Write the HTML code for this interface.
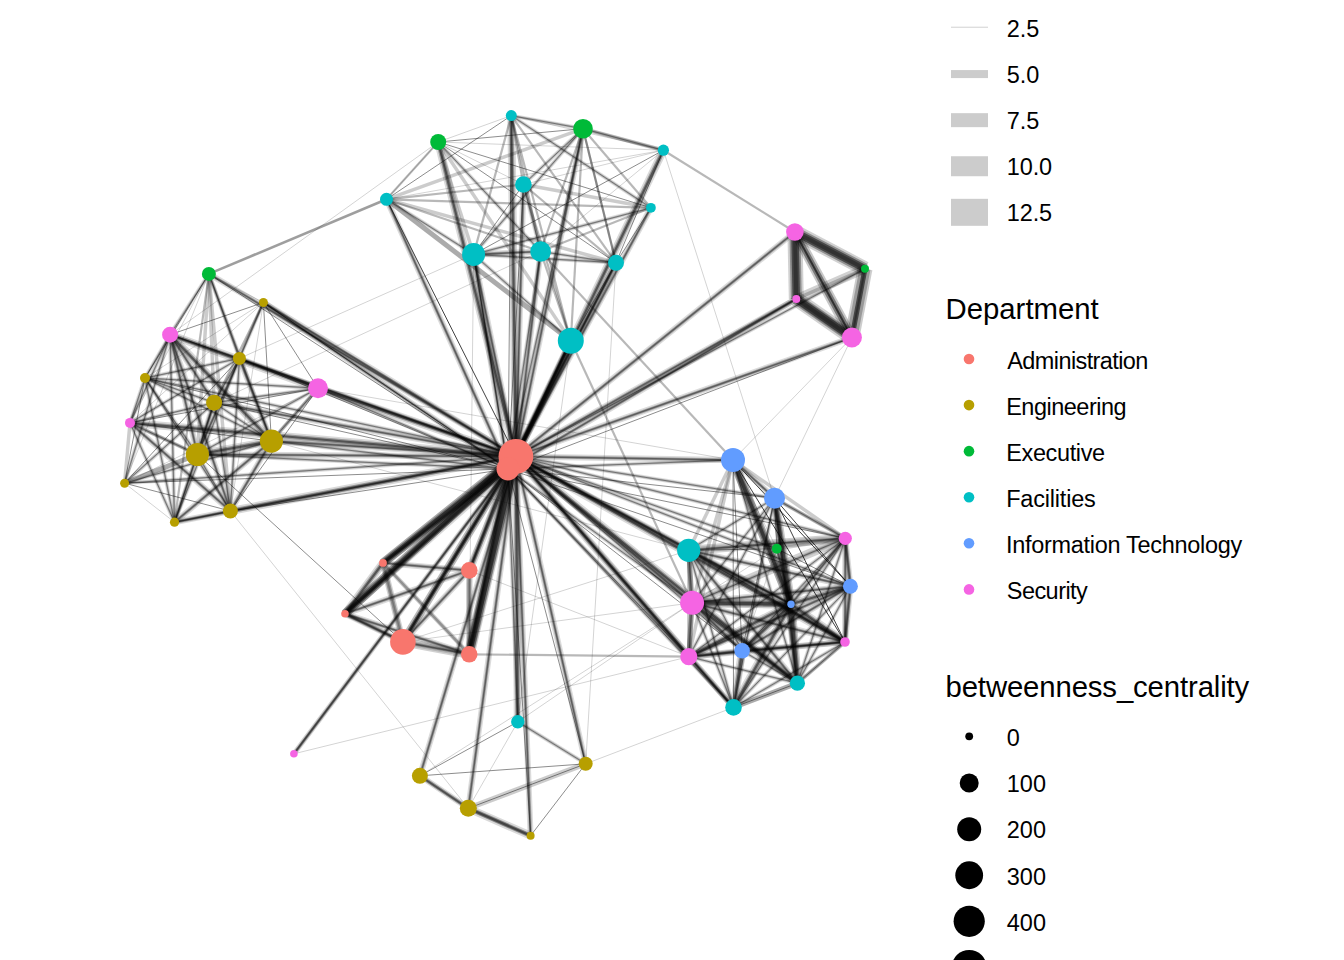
<!DOCTYPE html>
<html><head><meta charset="utf-8"><title>network</title>
<style>
html,body{margin:0;padding:0;background:#fff;}
body{width:1344px;height:960px;overflow:hidden;font-family:"Liberation Sans",sans-serif;}
svg{display:block;}
text{font-family:"Liberation Sans",sans-serif;fill:#000;}
</style></head><body>
<svg width="1344" height="960" viewBox="0 0 1344 960">
<rect width="1344" height="960" fill="#fff"/>
<defs><filter id="bl" x="0" y="0" width="1344" height="960" filterUnits="userSpaceOnUse"><feGaussianBlur stdDeviation="0.45"/></filter></defs><g stroke="#000" stroke-linecap="butt" filter="url(#bl)"><line x1="511.3" y1="115.6" x2="438.2" y2="142.0" stroke-width="0.8" stroke-opacity="0.22"/>
<line x1="511.3" y1="115.6" x2="583.0" y2="128.7" stroke-width="4.0" stroke-opacity="0.13"/>
<line x1="511.3" y1="115.6" x2="583.0" y2="128.7" stroke-width="2.2" stroke-opacity="0.20"/>
<line x1="511.3" y1="115.6" x2="583.0" y2="128.7" stroke-width="1.0" stroke-opacity="0.36"/>
<line x1="511.3" y1="115.6" x2="663.4" y2="150.2" stroke-width="0.8" stroke-opacity="0.22"/>
<line x1="511.3" y1="115.6" x2="523.4" y2="184.5" stroke-width="2.2" stroke-opacity="0.28"/>
<line x1="511.3" y1="115.6" x2="386.5" y2="199.3" stroke-width="0.9" stroke-opacity="0.50"/>
<line x1="511.3" y1="115.6" x2="650.9" y2="207.8" stroke-width="4.0" stroke-opacity="0.13"/>
<line x1="511.3" y1="115.6" x2="650.9" y2="207.8" stroke-width="2.2" stroke-opacity="0.20"/>
<line x1="511.3" y1="115.6" x2="650.9" y2="207.8" stroke-width="1.0" stroke-opacity="0.36"/>
<line x1="511.3" y1="115.6" x2="473.6" y2="254.4" stroke-width="2.2" stroke-opacity="0.28"/>
<line x1="511.3" y1="115.6" x2="540.6" y2="251.5" stroke-width="2.2" stroke-opacity="0.28"/>
<line x1="511.3" y1="115.6" x2="616.0" y2="262.8" stroke-width="2.2" stroke-opacity="0.28"/>
<line x1="511.3" y1="115.6" x2="570.8" y2="340.7" stroke-width="2.2" stroke-opacity="0.28"/>
<line x1="438.2" y1="142.0" x2="583.0" y2="128.7" stroke-width="0.9" stroke-opacity="0.50"/>
<line x1="438.2" y1="142.0" x2="663.4" y2="150.2" stroke-width="0.8" stroke-opacity="0.22"/>
<line x1="438.2" y1="142.0" x2="523.4" y2="184.5" stroke-width="0.8" stroke-opacity="0.22"/>
<line x1="438.2" y1="142.0" x2="386.5" y2="199.3" stroke-width="2.2" stroke-opacity="0.28"/>
<line x1="438.2" y1="142.0" x2="386.5" y2="199.3" stroke-width="0.8" stroke-opacity="0.22"/>
<line x1="438.2" y1="142.0" x2="650.9" y2="207.8" stroke-width="0.9" stroke-opacity="0.50"/>
<line x1="438.2" y1="142.0" x2="473.6" y2="254.4" stroke-width="3.5" stroke-opacity="0.20"/>
<line x1="438.2" y1="142.0" x2="540.6" y2="251.5" stroke-width="4.0" stroke-opacity="0.13"/>
<line x1="438.2" y1="142.0" x2="540.6" y2="251.5" stroke-width="2.2" stroke-opacity="0.20"/>
<line x1="438.2" y1="142.0" x2="540.6" y2="251.5" stroke-width="1.0" stroke-opacity="0.36"/>
<line x1="438.2" y1="142.0" x2="616.0" y2="262.8" stroke-width="0.9" stroke-opacity="0.50"/>
<line x1="438.2" y1="142.0" x2="570.8" y2="340.7" stroke-width="3.5" stroke-opacity="0.20"/>
<line x1="583.0" y1="128.7" x2="663.4" y2="150.2" stroke-width="4.0" stroke-opacity="0.13"/>
<line x1="583.0" y1="128.7" x2="663.4" y2="150.2" stroke-width="2.2" stroke-opacity="0.20"/>
<line x1="583.0" y1="128.7" x2="663.4" y2="150.2" stroke-width="1.0" stroke-opacity="0.36"/>
<line x1="583.0" y1="128.7" x2="663.4" y2="150.2" stroke-width="3.5" stroke-opacity="0.20"/>
<line x1="583.0" y1="128.7" x2="523.4" y2="184.5" stroke-width="4.0" stroke-opacity="0.13"/>
<line x1="583.0" y1="128.7" x2="523.4" y2="184.5" stroke-width="2.2" stroke-opacity="0.20"/>
<line x1="583.0" y1="128.7" x2="523.4" y2="184.5" stroke-width="1.0" stroke-opacity="0.36"/>
<line x1="583.0" y1="128.7" x2="386.5" y2="199.3" stroke-width="3.5" stroke-opacity="0.20"/>
<line x1="583.0" y1="128.7" x2="650.9" y2="207.8" stroke-width="2.2" stroke-opacity="0.28"/>
<line x1="583.0" y1="128.7" x2="473.6" y2="254.4" stroke-width="4.0" stroke-opacity="0.13"/>
<line x1="583.0" y1="128.7" x2="473.6" y2="254.4" stroke-width="2.2" stroke-opacity="0.20"/>
<line x1="583.0" y1="128.7" x2="473.6" y2="254.4" stroke-width="1.0" stroke-opacity="0.36"/>
<line x1="583.0" y1="128.7" x2="540.6" y2="251.5" stroke-width="2.2" stroke-opacity="0.28"/>
<line x1="583.0" y1="128.7" x2="616.0" y2="262.8" stroke-width="2.2" stroke-opacity="0.28"/>
<line x1="583.0" y1="128.7" x2="616.0" y2="262.8" stroke-width="2.2" stroke-opacity="0.28"/>
<line x1="583.0" y1="128.7" x2="570.8" y2="340.7" stroke-width="2.2" stroke-opacity="0.28"/>
<line x1="663.4" y1="150.2" x2="523.4" y2="184.5" stroke-width="0.8" stroke-opacity="0.22"/>
<line x1="663.4" y1="150.2" x2="386.5" y2="199.3" stroke-width="0.8" stroke-opacity="0.22"/>
<line x1="663.4" y1="150.2" x2="473.6" y2="254.4" stroke-width="0.9" stroke-opacity="0.50"/>
<line x1="663.4" y1="150.2" x2="540.6" y2="251.5" stroke-width="0.8" stroke-opacity="0.22"/>
<line x1="663.4" y1="150.2" x2="616.0" y2="262.8" stroke-width="0.9" stroke-opacity="0.50"/>
<line x1="523.4" y1="184.5" x2="386.5" y2="199.3" stroke-width="2.2" stroke-opacity="0.28"/>
<line x1="523.4" y1="184.5" x2="650.9" y2="207.8" stroke-width="3.5" stroke-opacity="0.20"/>
<line x1="523.4" y1="184.5" x2="473.6" y2="254.4" stroke-width="0.9" stroke-opacity="0.50"/>
<line x1="523.4" y1="184.5" x2="540.6" y2="251.5" stroke-width="4.0" stroke-opacity="0.13"/>
<line x1="523.4" y1="184.5" x2="540.6" y2="251.5" stroke-width="2.2" stroke-opacity="0.20"/>
<line x1="523.4" y1="184.5" x2="540.6" y2="251.5" stroke-width="1.0" stroke-opacity="0.36"/>
<line x1="523.4" y1="184.5" x2="616.0" y2="262.8" stroke-width="2.2" stroke-opacity="0.28"/>
<line x1="523.4" y1="184.5" x2="570.8" y2="340.7" stroke-width="2.2" stroke-opacity="0.28"/>
<line x1="386.5" y1="199.3" x2="650.9" y2="207.8" stroke-width="2.2" stroke-opacity="0.28"/>
<line x1="386.5" y1="199.3" x2="473.6" y2="254.4" stroke-width="4.0" stroke-opacity="0.13"/>
<line x1="386.5" y1="199.3" x2="473.6" y2="254.4" stroke-width="2.2" stroke-opacity="0.20"/>
<line x1="386.5" y1="199.3" x2="473.6" y2="254.4" stroke-width="1.0" stroke-opacity="0.36"/>
<line x1="386.5" y1="199.3" x2="540.6" y2="251.5" stroke-width="2.2" stroke-opacity="0.28"/>
<line x1="386.5" y1="199.3" x2="616.0" y2="262.8" stroke-width="3.5" stroke-opacity="0.20"/>
<line x1="386.5" y1="199.3" x2="570.8" y2="340.7" stroke-width="5.0" stroke-opacity="0.33"/>
<line x1="650.9" y1="207.8" x2="473.6" y2="254.4" stroke-width="4.0" stroke-opacity="0.13"/>
<line x1="650.9" y1="207.8" x2="473.6" y2="254.4" stroke-width="2.2" stroke-opacity="0.20"/>
<line x1="650.9" y1="207.8" x2="473.6" y2="254.4" stroke-width="1.0" stroke-opacity="0.36"/>
<line x1="650.9" y1="207.8" x2="540.6" y2="251.5" stroke-width="2.2" stroke-opacity="0.28"/>
<line x1="650.9" y1="207.8" x2="616.0" y2="262.8" stroke-width="0.9" stroke-opacity="0.50"/>
<line x1="473.6" y1="254.4" x2="540.6" y2="251.5" stroke-width="6.0" stroke-opacity="0.14"/>
<line x1="473.6" y1="254.4" x2="540.6" y2="251.5" stroke-width="3.2" stroke-opacity="0.26"/>
<line x1="473.6" y1="254.4" x2="540.6" y2="251.5" stroke-width="1.5" stroke-opacity="0.43"/>
<line x1="473.6" y1="254.4" x2="616.0" y2="262.8" stroke-width="4.0" stroke-opacity="0.13"/>
<line x1="473.6" y1="254.4" x2="616.0" y2="262.8" stroke-width="2.2" stroke-opacity="0.20"/>
<line x1="473.6" y1="254.4" x2="616.0" y2="262.8" stroke-width="1.0" stroke-opacity="0.36"/>
<line x1="473.6" y1="254.4" x2="570.8" y2="340.7" stroke-width="4.0" stroke-opacity="0.13"/>
<line x1="473.6" y1="254.4" x2="570.8" y2="340.7" stroke-width="2.2" stroke-opacity="0.20"/>
<line x1="473.6" y1="254.4" x2="570.8" y2="340.7" stroke-width="1.0" stroke-opacity="0.36"/>
<line x1="540.6" y1="251.5" x2="616.0" y2="262.8" stroke-width="4.0" stroke-opacity="0.13"/>
<line x1="540.6" y1="251.5" x2="616.0" y2="262.8" stroke-width="2.2" stroke-opacity="0.20"/>
<line x1="540.6" y1="251.5" x2="616.0" y2="262.8" stroke-width="1.0" stroke-opacity="0.36"/>
<line x1="540.6" y1="251.5" x2="570.8" y2="340.7" stroke-width="2.2" stroke-opacity="0.28"/>
<line x1="616.0" y1="262.8" x2="570.8" y2="340.7" stroke-width="0.9" stroke-opacity="0.50"/>
<line x1="208.9" y1="273.9" x2="263.4" y2="302.5" stroke-width="0.8" stroke-opacity="0.22"/>
<line x1="208.9" y1="273.9" x2="170.1" y2="334.7" stroke-width="4.0" stroke-opacity="0.13"/>
<line x1="208.9" y1="273.9" x2="170.1" y2="334.7" stroke-width="2.2" stroke-opacity="0.20"/>
<line x1="208.9" y1="273.9" x2="170.1" y2="334.7" stroke-width="1.0" stroke-opacity="0.36"/>
<line x1="208.9" y1="273.9" x2="239.4" y2="358.4" stroke-width="4.0" stroke-opacity="0.13"/>
<line x1="208.9" y1="273.9" x2="239.4" y2="358.4" stroke-width="2.2" stroke-opacity="0.20"/>
<line x1="208.9" y1="273.9" x2="239.4" y2="358.4" stroke-width="1.0" stroke-opacity="0.36"/>
<line x1="208.9" y1="273.9" x2="145.0" y2="378.0" stroke-width="0.9" stroke-opacity="0.50"/>
<line x1="208.9" y1="273.9" x2="214.1" y2="402.7" stroke-width="3.5" stroke-opacity="0.20"/>
<line x1="208.9" y1="273.9" x2="130.0" y2="422.9" stroke-width="0.8" stroke-opacity="0.22"/>
<line x1="208.9" y1="273.9" x2="271.4" y2="441.1" stroke-width="4.0" stroke-opacity="0.13"/>
<line x1="208.9" y1="273.9" x2="271.4" y2="441.1" stroke-width="2.2" stroke-opacity="0.20"/>
<line x1="208.9" y1="273.9" x2="271.4" y2="441.1" stroke-width="1.0" stroke-opacity="0.36"/>
<line x1="208.9" y1="273.9" x2="197.4" y2="454.5" stroke-width="3.5" stroke-opacity="0.20"/>
<line x1="208.9" y1="273.9" x2="124.6" y2="483.2" stroke-width="0.8" stroke-opacity="0.22"/>
<line x1="208.9" y1="273.9" x2="230.4" y2="511.0" stroke-width="3.5" stroke-opacity="0.20"/>
<line x1="208.9" y1="273.9" x2="174.5" y2="522.2" stroke-width="2.2" stroke-opacity="0.28"/>
<line x1="263.4" y1="302.5" x2="170.1" y2="334.7" stroke-width="0.9" stroke-opacity="0.50"/>
<line x1="263.4" y1="302.5" x2="239.4" y2="358.4" stroke-width="4.0" stroke-opacity="0.13"/>
<line x1="263.4" y1="302.5" x2="239.4" y2="358.4" stroke-width="2.2" stroke-opacity="0.20"/>
<line x1="263.4" y1="302.5" x2="239.4" y2="358.4" stroke-width="1.0" stroke-opacity="0.36"/>
<line x1="263.4" y1="302.5" x2="145.0" y2="378.0" stroke-width="0.8" stroke-opacity="0.22"/>
<line x1="263.4" y1="302.5" x2="318.0" y2="388.3" stroke-width="0.9" stroke-opacity="0.50"/>
<line x1="263.4" y1="302.5" x2="214.1" y2="402.7" stroke-width="2.2" stroke-opacity="0.28"/>
<line x1="263.4" y1="302.5" x2="130.0" y2="422.9" stroke-width="0.8" stroke-opacity="0.22"/>
<line x1="263.4" y1="302.5" x2="271.4" y2="441.1" stroke-width="0.9" stroke-opacity="0.50"/>
<line x1="263.4" y1="302.5" x2="197.4" y2="454.5" stroke-width="2.2" stroke-opacity="0.28"/>
<line x1="263.4" y1="302.5" x2="230.4" y2="511.0" stroke-width="0.8" stroke-opacity="0.22"/>
<line x1="170.1" y1="334.7" x2="239.4" y2="358.4" stroke-width="0.9" stroke-opacity="0.50"/>
<line x1="170.1" y1="334.7" x2="145.0" y2="378.0" stroke-width="4.0" stroke-opacity="0.13"/>
<line x1="170.1" y1="334.7" x2="145.0" y2="378.0" stroke-width="2.2" stroke-opacity="0.20"/>
<line x1="170.1" y1="334.7" x2="145.0" y2="378.0" stroke-width="1.0" stroke-opacity="0.36"/>
<line x1="170.1" y1="334.7" x2="318.0" y2="388.3" stroke-width="8.0" stroke-opacity="0.15"/>
<line x1="170.1" y1="334.7" x2="318.0" y2="388.3" stroke-width="4.5" stroke-opacity="0.30"/>
<line x1="170.1" y1="334.7" x2="318.0" y2="388.3" stroke-width="2.2" stroke-opacity="0.46"/>
<line x1="170.1" y1="334.7" x2="214.1" y2="402.7" stroke-width="6.0" stroke-opacity="0.14"/>
<line x1="170.1" y1="334.7" x2="214.1" y2="402.7" stroke-width="3.2" stroke-opacity="0.26"/>
<line x1="170.1" y1="334.7" x2="214.1" y2="402.7" stroke-width="1.5" stroke-opacity="0.43"/>
<line x1="170.1" y1="334.7" x2="130.0" y2="422.9" stroke-width="4.0" stroke-opacity="0.13"/>
<line x1="170.1" y1="334.7" x2="130.0" y2="422.9" stroke-width="2.2" stroke-opacity="0.20"/>
<line x1="170.1" y1="334.7" x2="130.0" y2="422.9" stroke-width="1.0" stroke-opacity="0.36"/>
<line x1="170.1" y1="334.7" x2="271.4" y2="441.1" stroke-width="8.0" stroke-opacity="0.15"/>
<line x1="170.1" y1="334.7" x2="271.4" y2="441.1" stroke-width="4.5" stroke-opacity="0.30"/>
<line x1="170.1" y1="334.7" x2="271.4" y2="441.1" stroke-width="2.2" stroke-opacity="0.46"/>
<line x1="170.1" y1="334.7" x2="197.4" y2="454.5" stroke-width="6.0" stroke-opacity="0.14"/>
<line x1="170.1" y1="334.7" x2="197.4" y2="454.5" stroke-width="3.2" stroke-opacity="0.26"/>
<line x1="170.1" y1="334.7" x2="197.4" y2="454.5" stroke-width="1.5" stroke-opacity="0.43"/>
<line x1="170.1" y1="334.7" x2="124.6" y2="483.2" stroke-width="4.0" stroke-opacity="0.13"/>
<line x1="170.1" y1="334.7" x2="124.6" y2="483.2" stroke-width="2.2" stroke-opacity="0.20"/>
<line x1="170.1" y1="334.7" x2="124.6" y2="483.2" stroke-width="1.0" stroke-opacity="0.36"/>
<line x1="170.1" y1="334.7" x2="230.4" y2="511.0" stroke-width="6.0" stroke-opacity="0.14"/>
<line x1="170.1" y1="334.7" x2="230.4" y2="511.0" stroke-width="3.2" stroke-opacity="0.26"/>
<line x1="170.1" y1="334.7" x2="230.4" y2="511.0" stroke-width="1.5" stroke-opacity="0.43"/>
<line x1="170.1" y1="334.7" x2="174.5" y2="522.2" stroke-width="4.0" stroke-opacity="0.13"/>
<line x1="170.1" y1="334.7" x2="174.5" y2="522.2" stroke-width="2.2" stroke-opacity="0.20"/>
<line x1="170.1" y1="334.7" x2="174.5" y2="522.2" stroke-width="1.0" stroke-opacity="0.36"/>
<line x1="239.4" y1="358.4" x2="145.0" y2="378.0" stroke-width="4.0" stroke-opacity="0.13"/>
<line x1="239.4" y1="358.4" x2="145.0" y2="378.0" stroke-width="2.2" stroke-opacity="0.20"/>
<line x1="239.4" y1="358.4" x2="145.0" y2="378.0" stroke-width="1.0" stroke-opacity="0.36"/>
<line x1="239.4" y1="358.4" x2="318.0" y2="388.3" stroke-width="4.0" stroke-opacity="0.13"/>
<line x1="239.4" y1="358.4" x2="318.0" y2="388.3" stroke-width="2.2" stroke-opacity="0.20"/>
<line x1="239.4" y1="358.4" x2="318.0" y2="388.3" stroke-width="1.0" stroke-opacity="0.36"/>
<line x1="239.4" y1="358.4" x2="214.1" y2="402.7" stroke-width="4.0" stroke-opacity="0.13"/>
<line x1="239.4" y1="358.4" x2="214.1" y2="402.7" stroke-width="2.2" stroke-opacity="0.20"/>
<line x1="239.4" y1="358.4" x2="214.1" y2="402.7" stroke-width="1.0" stroke-opacity="0.36"/>
<line x1="239.4" y1="358.4" x2="130.0" y2="422.9" stroke-width="4.0" stroke-opacity="0.13"/>
<line x1="239.4" y1="358.4" x2="130.0" y2="422.9" stroke-width="2.2" stroke-opacity="0.20"/>
<line x1="239.4" y1="358.4" x2="130.0" y2="422.9" stroke-width="1.0" stroke-opacity="0.36"/>
<line x1="239.4" y1="358.4" x2="271.4" y2="441.1" stroke-width="6.0" stroke-opacity="0.14"/>
<line x1="239.4" y1="358.4" x2="271.4" y2="441.1" stroke-width="3.2" stroke-opacity="0.26"/>
<line x1="239.4" y1="358.4" x2="271.4" y2="441.1" stroke-width="1.5" stroke-opacity="0.43"/>
<line x1="239.4" y1="358.4" x2="197.4" y2="454.5" stroke-width="4.0" stroke-opacity="0.13"/>
<line x1="239.4" y1="358.4" x2="197.4" y2="454.5" stroke-width="2.2" stroke-opacity="0.20"/>
<line x1="239.4" y1="358.4" x2="197.4" y2="454.5" stroke-width="1.0" stroke-opacity="0.36"/>
<line x1="239.4" y1="358.4" x2="124.6" y2="483.2" stroke-width="0.9" stroke-opacity="0.50"/>
<line x1="239.4" y1="358.4" x2="230.4" y2="511.0" stroke-width="4.0" stroke-opacity="0.13"/>
<line x1="239.4" y1="358.4" x2="230.4" y2="511.0" stroke-width="2.2" stroke-opacity="0.20"/>
<line x1="239.4" y1="358.4" x2="230.4" y2="511.0" stroke-width="1.0" stroke-opacity="0.36"/>
<line x1="239.4" y1="358.4" x2="174.5" y2="522.2" stroke-width="4.0" stroke-opacity="0.13"/>
<line x1="239.4" y1="358.4" x2="174.5" y2="522.2" stroke-width="2.2" stroke-opacity="0.20"/>
<line x1="239.4" y1="358.4" x2="174.5" y2="522.2" stroke-width="1.0" stroke-opacity="0.36"/>
<line x1="145.0" y1="378.0" x2="318.0" y2="388.3" stroke-width="4.0" stroke-opacity="0.13"/>
<line x1="145.0" y1="378.0" x2="318.0" y2="388.3" stroke-width="2.2" stroke-opacity="0.20"/>
<line x1="145.0" y1="378.0" x2="318.0" y2="388.3" stroke-width="1.0" stroke-opacity="0.36"/>
<line x1="145.0" y1="378.0" x2="214.1" y2="402.7" stroke-width="4.0" stroke-opacity="0.13"/>
<line x1="145.0" y1="378.0" x2="214.1" y2="402.7" stroke-width="2.2" stroke-opacity="0.20"/>
<line x1="145.0" y1="378.0" x2="214.1" y2="402.7" stroke-width="1.0" stroke-opacity="0.36"/>
<line x1="145.0" y1="378.0" x2="130.0" y2="422.9" stroke-width="4.0" stroke-opacity="0.13"/>
<line x1="145.0" y1="378.0" x2="130.0" y2="422.9" stroke-width="2.2" stroke-opacity="0.20"/>
<line x1="145.0" y1="378.0" x2="130.0" y2="422.9" stroke-width="1.0" stroke-opacity="0.36"/>
<line x1="145.0" y1="378.0" x2="271.4" y2="441.1" stroke-width="4.0" stroke-opacity="0.13"/>
<line x1="145.0" y1="378.0" x2="271.4" y2="441.1" stroke-width="2.2" stroke-opacity="0.20"/>
<line x1="145.0" y1="378.0" x2="271.4" y2="441.1" stroke-width="1.0" stroke-opacity="0.36"/>
<line x1="145.0" y1="378.0" x2="197.4" y2="454.5" stroke-width="4.0" stroke-opacity="0.13"/>
<line x1="145.0" y1="378.0" x2="197.4" y2="454.5" stroke-width="2.2" stroke-opacity="0.20"/>
<line x1="145.0" y1="378.0" x2="197.4" y2="454.5" stroke-width="1.0" stroke-opacity="0.36"/>
<line x1="145.0" y1="378.0" x2="124.6" y2="483.2" stroke-width="0.9" stroke-opacity="0.50"/>
<line x1="145.0" y1="378.0" x2="230.4" y2="511.0" stroke-width="4.0" stroke-opacity="0.13"/>
<line x1="145.0" y1="378.0" x2="230.4" y2="511.0" stroke-width="2.2" stroke-opacity="0.20"/>
<line x1="145.0" y1="378.0" x2="230.4" y2="511.0" stroke-width="1.0" stroke-opacity="0.36"/>
<line x1="145.0" y1="378.0" x2="174.5" y2="522.2" stroke-width="4.0" stroke-opacity="0.13"/>
<line x1="145.0" y1="378.0" x2="174.5" y2="522.2" stroke-width="2.2" stroke-opacity="0.20"/>
<line x1="145.0" y1="378.0" x2="174.5" y2="522.2" stroke-width="1.0" stroke-opacity="0.36"/>
<line x1="318.0" y1="388.3" x2="214.1" y2="402.7" stroke-width="4.0" stroke-opacity="0.13"/>
<line x1="318.0" y1="388.3" x2="214.1" y2="402.7" stroke-width="2.2" stroke-opacity="0.20"/>
<line x1="318.0" y1="388.3" x2="214.1" y2="402.7" stroke-width="1.0" stroke-opacity="0.36"/>
<line x1="318.0" y1="388.3" x2="130.0" y2="422.9" stroke-width="0.9" stroke-opacity="0.50"/>
<line x1="318.0" y1="388.3" x2="271.4" y2="441.1" stroke-width="4.0" stroke-opacity="0.13"/>
<line x1="318.0" y1="388.3" x2="271.4" y2="441.1" stroke-width="2.2" stroke-opacity="0.20"/>
<line x1="318.0" y1="388.3" x2="271.4" y2="441.1" stroke-width="1.0" stroke-opacity="0.36"/>
<line x1="318.0" y1="388.3" x2="271.4" y2="441.1" stroke-width="3.5" stroke-opacity="0.20"/>
<line x1="318.0" y1="388.3" x2="197.4" y2="454.5" stroke-width="4.0" stroke-opacity="0.13"/>
<line x1="318.0" y1="388.3" x2="197.4" y2="454.5" stroke-width="2.2" stroke-opacity="0.20"/>
<line x1="318.0" y1="388.3" x2="197.4" y2="454.5" stroke-width="1.0" stroke-opacity="0.36"/>
<line x1="318.0" y1="388.3" x2="230.4" y2="511.0" stroke-width="0.9" stroke-opacity="0.50"/>
<line x1="318.0" y1="388.3" x2="124.6" y2="483.2" stroke-width="0.8" stroke-opacity="0.22"/>
<line x1="214.1" y1="402.7" x2="130.0" y2="422.9" stroke-width="4.0" stroke-opacity="0.13"/>
<line x1="214.1" y1="402.7" x2="130.0" y2="422.9" stroke-width="2.2" stroke-opacity="0.20"/>
<line x1="214.1" y1="402.7" x2="130.0" y2="422.9" stroke-width="1.0" stroke-opacity="0.36"/>
<line x1="214.1" y1="402.7" x2="271.4" y2="441.1" stroke-width="4.0" stroke-opacity="0.13"/>
<line x1="214.1" y1="402.7" x2="271.4" y2="441.1" stroke-width="2.2" stroke-opacity="0.20"/>
<line x1="214.1" y1="402.7" x2="271.4" y2="441.1" stroke-width="1.0" stroke-opacity="0.36"/>
<line x1="214.1" y1="402.7" x2="197.4" y2="454.5" stroke-width="6.0" stroke-opacity="0.14"/>
<line x1="214.1" y1="402.7" x2="197.4" y2="454.5" stroke-width="3.2" stroke-opacity="0.26"/>
<line x1="214.1" y1="402.7" x2="197.4" y2="454.5" stroke-width="1.5" stroke-opacity="0.43"/>
<line x1="214.1" y1="402.7" x2="124.6" y2="483.2" stroke-width="4.0" stroke-opacity="0.13"/>
<line x1="214.1" y1="402.7" x2="124.6" y2="483.2" stroke-width="2.2" stroke-opacity="0.20"/>
<line x1="214.1" y1="402.7" x2="124.6" y2="483.2" stroke-width="1.0" stroke-opacity="0.36"/>
<line x1="214.1" y1="402.7" x2="230.4" y2="511.0" stroke-width="4.0" stroke-opacity="0.13"/>
<line x1="214.1" y1="402.7" x2="230.4" y2="511.0" stroke-width="2.2" stroke-opacity="0.20"/>
<line x1="214.1" y1="402.7" x2="230.4" y2="511.0" stroke-width="1.0" stroke-opacity="0.36"/>
<line x1="214.1" y1="402.7" x2="174.5" y2="522.2" stroke-width="4.0" stroke-opacity="0.13"/>
<line x1="214.1" y1="402.7" x2="174.5" y2="522.2" stroke-width="2.2" stroke-opacity="0.20"/>
<line x1="214.1" y1="402.7" x2="174.5" y2="522.2" stroke-width="1.0" stroke-opacity="0.36"/>
<line x1="130.0" y1="422.9" x2="271.4" y2="441.1" stroke-width="0.9" stroke-opacity="0.50"/>
<line x1="130.0" y1="422.9" x2="197.4" y2="454.5" stroke-width="3.5" stroke-opacity="0.20"/>
<line x1="130.0" y1="422.9" x2="197.4" y2="454.5" stroke-width="4.0" stroke-opacity="0.13"/>
<line x1="130.0" y1="422.9" x2="197.4" y2="454.5" stroke-width="2.2" stroke-opacity="0.20"/>
<line x1="130.0" y1="422.9" x2="197.4" y2="454.5" stroke-width="1.0" stroke-opacity="0.36"/>
<line x1="130.0" y1="422.9" x2="124.6" y2="483.2" stroke-width="3.5" stroke-opacity="0.20"/>
<line x1="130.0" y1="422.9" x2="230.4" y2="511.0" stroke-width="6.0" stroke-opacity="0.14"/>
<line x1="130.0" y1="422.9" x2="230.4" y2="511.0" stroke-width="3.2" stroke-opacity="0.26"/>
<line x1="130.0" y1="422.9" x2="230.4" y2="511.0" stroke-width="1.5" stroke-opacity="0.43"/>
<line x1="130.0" y1="422.9" x2="174.5" y2="522.2" stroke-width="4.0" stroke-opacity="0.13"/>
<line x1="130.0" y1="422.9" x2="174.5" y2="522.2" stroke-width="2.2" stroke-opacity="0.20"/>
<line x1="130.0" y1="422.9" x2="174.5" y2="522.2" stroke-width="1.0" stroke-opacity="0.36"/>
<line x1="271.4" y1="441.1" x2="197.4" y2="454.5" stroke-width="8.0" stroke-opacity="0.15"/>
<line x1="271.4" y1="441.1" x2="197.4" y2="454.5" stroke-width="4.5" stroke-opacity="0.30"/>
<line x1="271.4" y1="441.1" x2="197.4" y2="454.5" stroke-width="2.2" stroke-opacity="0.46"/>
<line x1="271.4" y1="441.1" x2="124.6" y2="483.2" stroke-width="4.0" stroke-opacity="0.13"/>
<line x1="271.4" y1="441.1" x2="124.6" y2="483.2" stroke-width="2.2" stroke-opacity="0.20"/>
<line x1="271.4" y1="441.1" x2="124.6" y2="483.2" stroke-width="1.0" stroke-opacity="0.36"/>
<line x1="271.4" y1="441.1" x2="230.4" y2="511.0" stroke-width="6.0" stroke-opacity="0.14"/>
<line x1="271.4" y1="441.1" x2="230.4" y2="511.0" stroke-width="3.2" stroke-opacity="0.26"/>
<line x1="271.4" y1="441.1" x2="230.4" y2="511.0" stroke-width="1.5" stroke-opacity="0.43"/>
<line x1="271.4" y1="441.1" x2="174.5" y2="522.2" stroke-width="6.0" stroke-opacity="0.14"/>
<line x1="271.4" y1="441.1" x2="174.5" y2="522.2" stroke-width="3.2" stroke-opacity="0.26"/>
<line x1="271.4" y1="441.1" x2="174.5" y2="522.2" stroke-width="1.5" stroke-opacity="0.43"/>
<line x1="197.4" y1="454.5" x2="124.6" y2="483.2" stroke-width="5.0" stroke-opacity="0.33"/>
<line x1="197.4" y1="454.5" x2="230.4" y2="511.0" stroke-width="4.0" stroke-opacity="0.13"/>
<line x1="197.4" y1="454.5" x2="230.4" y2="511.0" stroke-width="2.2" stroke-opacity="0.20"/>
<line x1="197.4" y1="454.5" x2="230.4" y2="511.0" stroke-width="1.0" stroke-opacity="0.36"/>
<line x1="197.4" y1="454.5" x2="174.5" y2="522.2" stroke-width="4.0" stroke-opacity="0.13"/>
<line x1="197.4" y1="454.5" x2="174.5" y2="522.2" stroke-width="2.2" stroke-opacity="0.20"/>
<line x1="197.4" y1="454.5" x2="174.5" y2="522.2" stroke-width="1.0" stroke-opacity="0.36"/>
<line x1="124.6" y1="483.2" x2="230.4" y2="511.0" stroke-width="0.9" stroke-opacity="0.50"/>
<line x1="124.6" y1="483.2" x2="174.5" y2="522.2" stroke-width="0.8" stroke-opacity="0.22"/>
<line x1="230.4" y1="511.0" x2="174.5" y2="522.2" stroke-width="6.0" stroke-opacity="0.14"/>
<line x1="230.4" y1="511.0" x2="174.5" y2="522.2" stroke-width="3.2" stroke-opacity="0.26"/>
<line x1="230.4" y1="511.0" x2="174.5" y2="522.2" stroke-width="1.5" stroke-opacity="0.43"/>
<line x1="733.0" y1="460.0" x2="774.5" y2="498.2" stroke-width="6.0" stroke-opacity="0.14"/>
<line x1="733.0" y1="460.0" x2="774.5" y2="498.2" stroke-width="3.2" stroke-opacity="0.26"/>
<line x1="733.0" y1="460.0" x2="774.5" y2="498.2" stroke-width="1.5" stroke-opacity="0.43"/>
<line x1="733.0" y1="460.0" x2="845.3" y2="538.3" stroke-width="3.5" stroke-opacity="0.20"/>
<line x1="733.0" y1="460.0" x2="791.0" y2="604.2" stroke-width="9.0" stroke-opacity="0.20"/>
<line x1="733.0" y1="460.0" x2="791.0" y2="604.2" stroke-width="6.0" stroke-opacity="0.35"/>
<line x1="733.0" y1="460.0" x2="791.0" y2="604.2" stroke-width="3.5" stroke-opacity="0.50"/>
<line x1="733.0" y1="460.0" x2="791.0" y2="604.2" stroke-width="9.0" stroke-opacity="0.18"/>
<line x1="733.0" y1="460.0" x2="688.7" y2="550.3" stroke-width="3.5" stroke-opacity="0.20"/>
<line x1="733.0" y1="460.0" x2="692.1" y2="602.8" stroke-width="3.5" stroke-opacity="0.20"/>
<line x1="733.0" y1="460.0" x2="688.8" y2="656.7" stroke-width="3.5" stroke-opacity="0.20"/>
<line x1="733.0" y1="460.0" x2="733.5" y2="707.4" stroke-width="0.9" stroke-opacity="0.50"/>
<line x1="733.0" y1="460.0" x2="742.1" y2="650.7" stroke-width="0.9" stroke-opacity="0.50"/>
<line x1="733.0" y1="460.0" x2="797.4" y2="683.2" stroke-width="4.0" stroke-opacity="0.13"/>
<line x1="733.0" y1="460.0" x2="797.4" y2="683.2" stroke-width="2.2" stroke-opacity="0.20"/>
<line x1="733.0" y1="460.0" x2="797.4" y2="683.2" stroke-width="1.0" stroke-opacity="0.36"/>
<line x1="733.0" y1="460.0" x2="850.4" y2="586.2" stroke-width="1.0" stroke-opacity="0.75"/>
<line x1="733.0" y1="460.0" x2="845.0" y2="642.0" stroke-width="1.0" stroke-opacity="0.75"/>
<line x1="733.0" y1="460.0" x2="776.8" y2="548.8" stroke-width="0.8" stroke-opacity="0.22"/>
<line x1="774.5" y1="498.2" x2="791.0" y2="604.2" stroke-width="9.0" stroke-opacity="0.20"/>
<line x1="774.5" y1="498.2" x2="791.0" y2="604.2" stroke-width="6.0" stroke-opacity="0.35"/>
<line x1="774.5" y1="498.2" x2="791.0" y2="604.2" stroke-width="3.5" stroke-opacity="0.50"/>
<line x1="774.5" y1="498.2" x2="688.7" y2="550.3" stroke-width="4.0" stroke-opacity="0.13"/>
<line x1="774.5" y1="498.2" x2="688.7" y2="550.3" stroke-width="2.2" stroke-opacity="0.20"/>
<line x1="774.5" y1="498.2" x2="688.7" y2="550.3" stroke-width="1.0" stroke-opacity="0.36"/>
<line x1="774.5" y1="498.2" x2="692.1" y2="602.8" stroke-width="4.0" stroke-opacity="0.13"/>
<line x1="774.5" y1="498.2" x2="692.1" y2="602.8" stroke-width="2.2" stroke-opacity="0.20"/>
<line x1="774.5" y1="498.2" x2="692.1" y2="602.8" stroke-width="1.0" stroke-opacity="0.36"/>
<line x1="774.5" y1="498.2" x2="688.8" y2="656.7" stroke-width="4.0" stroke-opacity="0.13"/>
<line x1="774.5" y1="498.2" x2="688.8" y2="656.7" stroke-width="2.2" stroke-opacity="0.20"/>
<line x1="774.5" y1="498.2" x2="688.8" y2="656.7" stroke-width="1.0" stroke-opacity="0.36"/>
<line x1="774.5" y1="498.2" x2="742.1" y2="650.7" stroke-width="0.9" stroke-opacity="0.50"/>
<line x1="774.5" y1="498.2" x2="733.5" y2="707.4" stroke-width="4.0" stroke-opacity="0.13"/>
<line x1="774.5" y1="498.2" x2="733.5" y2="707.4" stroke-width="2.2" stroke-opacity="0.20"/>
<line x1="774.5" y1="498.2" x2="733.5" y2="707.4" stroke-width="1.0" stroke-opacity="0.36"/>
<line x1="774.5" y1="498.2" x2="845.3" y2="538.3" stroke-width="4.0" stroke-opacity="0.13"/>
<line x1="774.5" y1="498.2" x2="845.3" y2="538.3" stroke-width="2.2" stroke-opacity="0.20"/>
<line x1="774.5" y1="498.2" x2="845.3" y2="538.3" stroke-width="1.0" stroke-opacity="0.36"/>
<line x1="774.5" y1="498.2" x2="845.3" y2="538.3" stroke-width="3.5" stroke-opacity="0.20"/>
<line x1="774.5" y1="498.2" x2="850.4" y2="586.2" stroke-width="1.0" stroke-opacity="0.75"/>
<line x1="774.5" y1="498.2" x2="845.0" y2="642.0" stroke-width="1.0" stroke-opacity="0.75"/>
<line x1="774.5" y1="498.2" x2="776.8" y2="548.8" stroke-width="0.9" stroke-opacity="0.50"/>
<line x1="774.5" y1="498.2" x2="797.4" y2="683.2" stroke-width="6.0" stroke-opacity="0.14"/>
<line x1="774.5" y1="498.2" x2="797.4" y2="683.2" stroke-width="3.2" stroke-opacity="0.26"/>
<line x1="774.5" y1="498.2" x2="797.4" y2="683.2" stroke-width="1.5" stroke-opacity="0.43"/>
<line x1="845.3" y1="538.3" x2="850.4" y2="586.2" stroke-width="6.0" stroke-opacity="0.14"/>
<line x1="845.3" y1="538.3" x2="850.4" y2="586.2" stroke-width="3.2" stroke-opacity="0.26"/>
<line x1="845.3" y1="538.3" x2="850.4" y2="586.2" stroke-width="1.5" stroke-opacity="0.43"/>
<line x1="845.3" y1="538.3" x2="850.4" y2="586.2" stroke-width="3.5" stroke-opacity="0.20"/>
<line x1="845.3" y1="538.3" x2="845.0" y2="642.0" stroke-width="6.0" stroke-opacity="0.14"/>
<line x1="845.3" y1="538.3" x2="845.0" y2="642.0" stroke-width="3.2" stroke-opacity="0.26"/>
<line x1="845.3" y1="538.3" x2="845.0" y2="642.0" stroke-width="1.5" stroke-opacity="0.43"/>
<line x1="845.3" y1="538.3" x2="688.7" y2="550.3" stroke-width="6.0" stroke-opacity="0.14"/>
<line x1="845.3" y1="538.3" x2="688.7" y2="550.3" stroke-width="3.2" stroke-opacity="0.26"/>
<line x1="845.3" y1="538.3" x2="688.7" y2="550.3" stroke-width="1.5" stroke-opacity="0.43"/>
<line x1="845.3" y1="538.3" x2="688.7" y2="550.3" stroke-width="9.0" stroke-opacity="0.18"/>
<line x1="845.3" y1="538.3" x2="692.1" y2="602.8" stroke-width="4.0" stroke-opacity="0.13"/>
<line x1="845.3" y1="538.3" x2="692.1" y2="602.8" stroke-width="2.2" stroke-opacity="0.20"/>
<line x1="845.3" y1="538.3" x2="692.1" y2="602.8" stroke-width="1.0" stroke-opacity="0.36"/>
<line x1="845.3" y1="538.3" x2="692.1" y2="602.8" stroke-width="9.0" stroke-opacity="0.18"/>
<line x1="845.3" y1="538.3" x2="791.0" y2="604.2" stroke-width="6.0" stroke-opacity="0.14"/>
<line x1="845.3" y1="538.3" x2="791.0" y2="604.2" stroke-width="3.2" stroke-opacity="0.26"/>
<line x1="845.3" y1="538.3" x2="791.0" y2="604.2" stroke-width="1.5" stroke-opacity="0.43"/>
<line x1="845.3" y1="538.3" x2="742.1" y2="650.7" stroke-width="4.0" stroke-opacity="0.13"/>
<line x1="845.3" y1="538.3" x2="742.1" y2="650.7" stroke-width="2.2" stroke-opacity="0.20"/>
<line x1="845.3" y1="538.3" x2="742.1" y2="650.7" stroke-width="1.0" stroke-opacity="0.36"/>
<line x1="845.3" y1="538.3" x2="688.8" y2="656.7" stroke-width="4.0" stroke-opacity="0.13"/>
<line x1="845.3" y1="538.3" x2="688.8" y2="656.7" stroke-width="2.2" stroke-opacity="0.20"/>
<line x1="845.3" y1="538.3" x2="688.8" y2="656.7" stroke-width="1.0" stroke-opacity="0.36"/>
<line x1="845.3" y1="538.3" x2="797.4" y2="683.2" stroke-width="4.0" stroke-opacity="0.13"/>
<line x1="845.3" y1="538.3" x2="797.4" y2="683.2" stroke-width="2.2" stroke-opacity="0.20"/>
<line x1="845.3" y1="538.3" x2="797.4" y2="683.2" stroke-width="1.0" stroke-opacity="0.36"/>
<line x1="845.3" y1="538.3" x2="733.5" y2="707.4" stroke-width="4.0" stroke-opacity="0.13"/>
<line x1="845.3" y1="538.3" x2="733.5" y2="707.4" stroke-width="2.2" stroke-opacity="0.20"/>
<line x1="845.3" y1="538.3" x2="733.5" y2="707.4" stroke-width="1.0" stroke-opacity="0.36"/>
<line x1="845.3" y1="538.3" x2="776.8" y2="548.8" stroke-width="3.5" stroke-opacity="0.20"/>
<line x1="688.7" y1="550.3" x2="845.0" y2="642.0" stroke-width="6.0" stroke-opacity="0.14"/>
<line x1="688.7" y1="550.3" x2="845.0" y2="642.0" stroke-width="3.2" stroke-opacity="0.26"/>
<line x1="688.7" y1="550.3" x2="845.0" y2="642.0" stroke-width="1.5" stroke-opacity="0.43"/>
<line x1="688.7" y1="550.3" x2="692.1" y2="602.8" stroke-width="5.0" stroke-opacity="0.33"/>
<line x1="688.7" y1="550.3" x2="692.1" y2="602.8" stroke-width="4.0" stroke-opacity="0.13"/>
<line x1="688.7" y1="550.3" x2="692.1" y2="602.8" stroke-width="2.2" stroke-opacity="0.20"/>
<line x1="688.7" y1="550.3" x2="692.1" y2="602.8" stroke-width="1.0" stroke-opacity="0.36"/>
<line x1="688.7" y1="550.3" x2="688.8" y2="656.7" stroke-width="3.5" stroke-opacity="0.20"/>
<line x1="688.7" y1="550.3" x2="850.4" y2="586.2" stroke-width="6.0" stroke-opacity="0.14"/>
<line x1="688.7" y1="550.3" x2="850.4" y2="586.2" stroke-width="3.2" stroke-opacity="0.26"/>
<line x1="688.7" y1="550.3" x2="850.4" y2="586.2" stroke-width="1.5" stroke-opacity="0.43"/>
<line x1="688.7" y1="550.3" x2="797.4" y2="683.2" stroke-width="6.0" stroke-opacity="0.14"/>
<line x1="688.7" y1="550.3" x2="797.4" y2="683.2" stroke-width="3.2" stroke-opacity="0.26"/>
<line x1="688.7" y1="550.3" x2="797.4" y2="683.2" stroke-width="1.5" stroke-opacity="0.43"/>
<line x1="688.7" y1="550.3" x2="742.1" y2="650.7" stroke-width="4.0" stroke-opacity="0.13"/>
<line x1="688.7" y1="550.3" x2="742.1" y2="650.7" stroke-width="2.2" stroke-opacity="0.20"/>
<line x1="688.7" y1="550.3" x2="742.1" y2="650.7" stroke-width="1.0" stroke-opacity="0.36"/>
<line x1="688.7" y1="550.3" x2="733.5" y2="707.4" stroke-width="4.0" stroke-opacity="0.13"/>
<line x1="688.7" y1="550.3" x2="733.5" y2="707.4" stroke-width="2.2" stroke-opacity="0.20"/>
<line x1="688.7" y1="550.3" x2="733.5" y2="707.4" stroke-width="1.0" stroke-opacity="0.36"/>
<line x1="688.7" y1="550.3" x2="791.0" y2="604.2" stroke-width="6.0" stroke-opacity="0.14"/>
<line x1="688.7" y1="550.3" x2="791.0" y2="604.2" stroke-width="3.2" stroke-opacity="0.26"/>
<line x1="688.7" y1="550.3" x2="791.0" y2="604.2" stroke-width="1.5" stroke-opacity="0.43"/>
<line x1="688.7" y1="550.3" x2="776.8" y2="548.8" stroke-width="0.9" stroke-opacity="0.50"/>
<line x1="850.4" y1="586.2" x2="692.1" y2="602.8" stroke-width="6.0" stroke-opacity="0.14"/>
<line x1="850.4" y1="586.2" x2="692.1" y2="602.8" stroke-width="3.2" stroke-opacity="0.26"/>
<line x1="850.4" y1="586.2" x2="692.1" y2="602.8" stroke-width="1.5" stroke-opacity="0.43"/>
<line x1="850.4" y1="586.2" x2="791.0" y2="604.2" stroke-width="8.0" stroke-opacity="0.15"/>
<line x1="850.4" y1="586.2" x2="791.0" y2="604.2" stroke-width="4.5" stroke-opacity="0.30"/>
<line x1="850.4" y1="586.2" x2="791.0" y2="604.2" stroke-width="2.2" stroke-opacity="0.46"/>
<line x1="850.4" y1="586.2" x2="742.1" y2="650.7" stroke-width="6.0" stroke-opacity="0.14"/>
<line x1="850.4" y1="586.2" x2="742.1" y2="650.7" stroke-width="3.2" stroke-opacity="0.26"/>
<line x1="850.4" y1="586.2" x2="742.1" y2="650.7" stroke-width="1.5" stroke-opacity="0.43"/>
<line x1="850.4" y1="586.2" x2="688.8" y2="656.7" stroke-width="6.0" stroke-opacity="0.14"/>
<line x1="850.4" y1="586.2" x2="688.8" y2="656.7" stroke-width="3.2" stroke-opacity="0.26"/>
<line x1="850.4" y1="586.2" x2="688.8" y2="656.7" stroke-width="1.5" stroke-opacity="0.43"/>
<line x1="850.4" y1="586.2" x2="733.5" y2="707.4" stroke-width="4.0" stroke-opacity="0.13"/>
<line x1="850.4" y1="586.2" x2="733.5" y2="707.4" stroke-width="2.2" stroke-opacity="0.20"/>
<line x1="850.4" y1="586.2" x2="733.5" y2="707.4" stroke-width="1.0" stroke-opacity="0.36"/>
<line x1="850.4" y1="586.2" x2="797.4" y2="683.2" stroke-width="4.0" stroke-opacity="0.13"/>
<line x1="850.4" y1="586.2" x2="797.4" y2="683.2" stroke-width="2.2" stroke-opacity="0.20"/>
<line x1="850.4" y1="586.2" x2="797.4" y2="683.2" stroke-width="1.0" stroke-opacity="0.36"/>
<line x1="850.4" y1="586.2" x2="845.0" y2="642.0" stroke-width="6.0" stroke-opacity="0.14"/>
<line x1="850.4" y1="586.2" x2="845.0" y2="642.0" stroke-width="3.2" stroke-opacity="0.26"/>
<line x1="850.4" y1="586.2" x2="845.0" y2="642.0" stroke-width="1.5" stroke-opacity="0.43"/>
<line x1="850.4" y1="586.2" x2="845.0" y2="642.0" stroke-width="3.5" stroke-opacity="0.20"/>
<line x1="850.4" y1="586.2" x2="776.8" y2="548.8" stroke-width="0.9" stroke-opacity="0.50"/>
<line x1="692.1" y1="602.8" x2="791.0" y2="604.2" stroke-width="9.0" stroke-opacity="0.20"/>
<line x1="692.1" y1="602.8" x2="791.0" y2="604.2" stroke-width="6.0" stroke-opacity="0.35"/>
<line x1="692.1" y1="602.8" x2="791.0" y2="604.2" stroke-width="3.5" stroke-opacity="0.50"/>
<line x1="692.1" y1="602.8" x2="797.4" y2="683.2" stroke-width="8.0" stroke-opacity="0.15"/>
<line x1="692.1" y1="602.8" x2="797.4" y2="683.2" stroke-width="4.5" stroke-opacity="0.30"/>
<line x1="692.1" y1="602.8" x2="797.4" y2="683.2" stroke-width="2.2" stroke-opacity="0.46"/>
<line x1="692.1" y1="602.8" x2="742.1" y2="650.7" stroke-width="6.0" stroke-opacity="0.14"/>
<line x1="692.1" y1="602.8" x2="742.1" y2="650.7" stroke-width="3.2" stroke-opacity="0.26"/>
<line x1="692.1" y1="602.8" x2="742.1" y2="650.7" stroke-width="1.5" stroke-opacity="0.43"/>
<line x1="692.1" y1="602.8" x2="733.5" y2="707.4" stroke-width="4.0" stroke-opacity="0.13"/>
<line x1="692.1" y1="602.8" x2="733.5" y2="707.4" stroke-width="2.2" stroke-opacity="0.20"/>
<line x1="692.1" y1="602.8" x2="733.5" y2="707.4" stroke-width="1.0" stroke-opacity="0.36"/>
<line x1="692.1" y1="602.8" x2="845.0" y2="642.0" stroke-width="6.0" stroke-opacity="0.14"/>
<line x1="692.1" y1="602.8" x2="845.0" y2="642.0" stroke-width="3.2" stroke-opacity="0.26"/>
<line x1="692.1" y1="602.8" x2="845.0" y2="642.0" stroke-width="1.5" stroke-opacity="0.43"/>
<line x1="692.1" y1="602.8" x2="688.8" y2="656.7" stroke-width="5.0" stroke-opacity="0.33"/>
<line x1="692.1" y1="602.8" x2="688.8" y2="656.7" stroke-width="4.0" stroke-opacity="0.13"/>
<line x1="692.1" y1="602.8" x2="688.8" y2="656.7" stroke-width="2.2" stroke-opacity="0.20"/>
<line x1="692.1" y1="602.8" x2="688.8" y2="656.7" stroke-width="1.0" stroke-opacity="0.36"/>
<line x1="692.1" y1="602.8" x2="776.8" y2="548.8" stroke-width="0.8" stroke-opacity="0.22"/>
<line x1="791.0" y1="604.2" x2="797.4" y2="683.2" stroke-width="9.0" stroke-opacity="0.20"/>
<line x1="791.0" y1="604.2" x2="797.4" y2="683.2" stroke-width="6.0" stroke-opacity="0.35"/>
<line x1="791.0" y1="604.2" x2="797.4" y2="683.2" stroke-width="3.5" stroke-opacity="0.50"/>
<line x1="791.0" y1="604.2" x2="742.1" y2="650.7" stroke-width="8.0" stroke-opacity="0.15"/>
<line x1="791.0" y1="604.2" x2="742.1" y2="650.7" stroke-width="4.5" stroke-opacity="0.30"/>
<line x1="791.0" y1="604.2" x2="742.1" y2="650.7" stroke-width="2.2" stroke-opacity="0.46"/>
<line x1="791.0" y1="604.2" x2="688.8" y2="656.7" stroke-width="8.0" stroke-opacity="0.15"/>
<line x1="791.0" y1="604.2" x2="688.8" y2="656.7" stroke-width="4.5" stroke-opacity="0.30"/>
<line x1="791.0" y1="604.2" x2="688.8" y2="656.7" stroke-width="2.2" stroke-opacity="0.46"/>
<line x1="791.0" y1="604.2" x2="733.5" y2="707.4" stroke-width="8.0" stroke-opacity="0.15"/>
<line x1="791.0" y1="604.2" x2="733.5" y2="707.4" stroke-width="4.5" stroke-opacity="0.30"/>
<line x1="791.0" y1="604.2" x2="733.5" y2="707.4" stroke-width="2.2" stroke-opacity="0.46"/>
<line x1="791.0" y1="604.2" x2="845.0" y2="642.0" stroke-width="8.0" stroke-opacity="0.15"/>
<line x1="791.0" y1="604.2" x2="845.0" y2="642.0" stroke-width="4.5" stroke-opacity="0.30"/>
<line x1="791.0" y1="604.2" x2="845.0" y2="642.0" stroke-width="2.2" stroke-opacity="0.46"/>
<line x1="791.0" y1="604.2" x2="776.8" y2="548.8" stroke-width="6.0" stroke-opacity="0.14"/>
<line x1="791.0" y1="604.2" x2="776.8" y2="548.8" stroke-width="3.2" stroke-opacity="0.26"/>
<line x1="791.0" y1="604.2" x2="776.8" y2="548.8" stroke-width="1.5" stroke-opacity="0.43"/>
<line x1="845.0" y1="642.0" x2="742.1" y2="650.7" stroke-width="6.0" stroke-opacity="0.14"/>
<line x1="845.0" y1="642.0" x2="742.1" y2="650.7" stroke-width="3.2" stroke-opacity="0.26"/>
<line x1="845.0" y1="642.0" x2="742.1" y2="650.7" stroke-width="1.5" stroke-opacity="0.43"/>
<line x1="845.0" y1="642.0" x2="688.8" y2="656.7" stroke-width="6.0" stroke-opacity="0.14"/>
<line x1="845.0" y1="642.0" x2="688.8" y2="656.7" stroke-width="3.2" stroke-opacity="0.26"/>
<line x1="845.0" y1="642.0" x2="688.8" y2="656.7" stroke-width="1.5" stroke-opacity="0.43"/>
<line x1="845.0" y1="642.0" x2="797.4" y2="683.2" stroke-width="4.0" stroke-opacity="0.13"/>
<line x1="845.0" y1="642.0" x2="797.4" y2="683.2" stroke-width="2.2" stroke-opacity="0.20"/>
<line x1="845.0" y1="642.0" x2="797.4" y2="683.2" stroke-width="1.0" stroke-opacity="0.36"/>
<line x1="845.0" y1="642.0" x2="797.4" y2="683.2" stroke-width="3.5" stroke-opacity="0.20"/>
<line x1="845.0" y1="642.0" x2="733.5" y2="707.4" stroke-width="4.0" stroke-opacity="0.13"/>
<line x1="845.0" y1="642.0" x2="733.5" y2="707.4" stroke-width="2.2" stroke-opacity="0.20"/>
<line x1="845.0" y1="642.0" x2="733.5" y2="707.4" stroke-width="1.0" stroke-opacity="0.36"/>
<line x1="742.1" y1="650.7" x2="733.5" y2="707.4" stroke-width="8.0" stroke-opacity="0.15"/>
<line x1="742.1" y1="650.7" x2="733.5" y2="707.4" stroke-width="4.5" stroke-opacity="0.30"/>
<line x1="742.1" y1="650.7" x2="733.5" y2="707.4" stroke-width="2.2" stroke-opacity="0.46"/>
<line x1="742.1" y1="650.7" x2="688.8" y2="656.7" stroke-width="6.0" stroke-opacity="0.14"/>
<line x1="742.1" y1="650.7" x2="688.8" y2="656.7" stroke-width="3.2" stroke-opacity="0.26"/>
<line x1="742.1" y1="650.7" x2="688.8" y2="656.7" stroke-width="1.5" stroke-opacity="0.43"/>
<line x1="742.1" y1="650.7" x2="797.4" y2="683.2" stroke-width="4.0" stroke-opacity="0.13"/>
<line x1="742.1" y1="650.7" x2="797.4" y2="683.2" stroke-width="2.2" stroke-opacity="0.20"/>
<line x1="742.1" y1="650.7" x2="797.4" y2="683.2" stroke-width="1.0" stroke-opacity="0.36"/>
<line x1="688.8" y1="656.7" x2="733.5" y2="707.4" stroke-width="6.0" stroke-opacity="0.14"/>
<line x1="688.8" y1="656.7" x2="733.5" y2="707.4" stroke-width="3.2" stroke-opacity="0.26"/>
<line x1="688.8" y1="656.7" x2="733.5" y2="707.4" stroke-width="1.5" stroke-opacity="0.43"/>
<line x1="688.8" y1="656.7" x2="797.4" y2="683.2" stroke-width="4.0" stroke-opacity="0.13"/>
<line x1="688.8" y1="656.7" x2="797.4" y2="683.2" stroke-width="2.2" stroke-opacity="0.20"/>
<line x1="688.8" y1="656.7" x2="797.4" y2="683.2" stroke-width="1.0" stroke-opacity="0.36"/>
<line x1="797.4" y1="683.2" x2="733.5" y2="707.4" stroke-width="5.0" stroke-opacity="0.33"/>
<line x1="797.4" y1="683.2" x2="733.5" y2="707.4" stroke-width="0.9" stroke-opacity="0.50"/>
<line x1="776.8" y1="548.8" x2="797.4" y2="683.2" stroke-width="0.8" stroke-opacity="0.22"/>
<line x1="776.8" y1="548.8" x2="742.1" y2="650.7" stroke-width="0.8" stroke-opacity="0.22"/>
<line x1="383.0" y1="562.9" x2="469.3" y2="570.4" stroke-width="6.0" stroke-opacity="0.14"/>
<line x1="383.0" y1="562.9" x2="469.3" y2="570.4" stroke-width="3.2" stroke-opacity="0.26"/>
<line x1="383.0" y1="562.9" x2="469.3" y2="570.4" stroke-width="1.5" stroke-opacity="0.43"/>
<line x1="383.0" y1="562.9" x2="345.0" y2="613.8" stroke-width="8.0" stroke-opacity="0.15"/>
<line x1="383.0" y1="562.9" x2="345.0" y2="613.8" stroke-width="4.5" stroke-opacity="0.30"/>
<line x1="383.0" y1="562.9" x2="345.0" y2="613.8" stroke-width="2.2" stroke-opacity="0.46"/>
<line x1="383.0" y1="562.9" x2="402.9" y2="641.9" stroke-width="6.5" stroke-opacity="0.18"/>
<line x1="383.0" y1="562.9" x2="402.9" y2="641.9" stroke-width="4.0" stroke-opacity="0.30"/>
<line x1="383.0" y1="562.9" x2="402.9" y2="641.9" stroke-width="1.5" stroke-opacity="0.20"/>
<line x1="383.0" y1="562.9" x2="469.2" y2="654.3" stroke-width="4.5" stroke-opacity="0.18"/>
<line x1="383.0" y1="562.9" x2="469.2" y2="654.3" stroke-width="2.6" stroke-opacity="0.30"/>
<line x1="469.3" y1="570.4" x2="345.0" y2="613.8" stroke-width="6.0" stroke-opacity="0.14"/>
<line x1="469.3" y1="570.4" x2="345.0" y2="613.8" stroke-width="3.2" stroke-opacity="0.26"/>
<line x1="469.3" y1="570.4" x2="345.0" y2="613.8" stroke-width="1.5" stroke-opacity="0.43"/>
<line x1="469.3" y1="570.4" x2="402.9" y2="641.9" stroke-width="6.0" stroke-opacity="0.14"/>
<line x1="469.3" y1="570.4" x2="402.9" y2="641.9" stroke-width="3.2" stroke-opacity="0.26"/>
<line x1="469.3" y1="570.4" x2="402.9" y2="641.9" stroke-width="1.5" stroke-opacity="0.43"/>
<line x1="469.3" y1="570.4" x2="469.2" y2="654.3" stroke-width="6.5" stroke-opacity="0.18"/>
<line x1="469.3" y1="570.4" x2="469.2" y2="654.3" stroke-width="4.0" stroke-opacity="0.30"/>
<line x1="469.3" y1="570.4" x2="469.2" y2="654.3" stroke-width="1.5" stroke-opacity="0.20"/>
<line x1="345.0" y1="613.8" x2="402.9" y2="641.9" stroke-width="6.0" stroke-opacity="0.14"/>
<line x1="345.0" y1="613.8" x2="402.9" y2="641.9" stroke-width="3.2" stroke-opacity="0.26"/>
<line x1="345.0" y1="613.8" x2="402.9" y2="641.9" stroke-width="1.5" stroke-opacity="0.43"/>
<line x1="345.0" y1="613.8" x2="402.9" y2="641.9" stroke-width="4.5" stroke-opacity="0.18"/>
<line x1="345.0" y1="613.8" x2="402.9" y2="641.9" stroke-width="2.6" stroke-opacity="0.30"/>
<line x1="345.0" y1="613.8" x2="469.2" y2="654.3" stroke-width="6.0" stroke-opacity="0.14"/>
<line x1="345.0" y1="613.8" x2="469.2" y2="654.3" stroke-width="3.2" stroke-opacity="0.26"/>
<line x1="345.0" y1="613.8" x2="469.2" y2="654.3" stroke-width="1.5" stroke-opacity="0.43"/>
<line x1="402.9" y1="641.9" x2="469.2" y2="654.3" stroke-width="6.0" stroke-opacity="0.14"/>
<line x1="402.9" y1="641.9" x2="469.2" y2="654.3" stroke-width="3.2" stroke-opacity="0.26"/>
<line x1="402.9" y1="641.9" x2="469.2" y2="654.3" stroke-width="1.5" stroke-opacity="0.43"/>
<line x1="402.9" y1="641.9" x2="469.2" y2="654.3" stroke-width="9.0" stroke-opacity="0.18"/>
<line x1="517.8" y1="721.8" x2="419.9" y2="775.8" stroke-width="0.9" stroke-opacity="0.50"/>
<line x1="517.8" y1="721.8" x2="585.7" y2="763.8" stroke-width="4.0" stroke-opacity="0.13"/>
<line x1="517.8" y1="721.8" x2="585.7" y2="763.8" stroke-width="2.2" stroke-opacity="0.20"/>
<line x1="517.8" y1="721.8" x2="585.7" y2="763.8" stroke-width="1.0" stroke-opacity="0.36"/>
<line x1="517.8" y1="721.8" x2="468.3" y2="808.3" stroke-width="0.8" stroke-opacity="0.22"/>
<line x1="419.9" y1="775.8" x2="585.7" y2="763.8" stroke-width="0.9" stroke-opacity="0.50"/>
<line x1="419.9" y1="775.8" x2="468.3" y2="808.3" stroke-width="6.0" stroke-opacity="0.14"/>
<line x1="419.9" y1="775.8" x2="468.3" y2="808.3" stroke-width="3.2" stroke-opacity="0.26"/>
<line x1="419.9" y1="775.8" x2="468.3" y2="808.3" stroke-width="1.5" stroke-opacity="0.43"/>
<line x1="419.9" y1="775.8" x2="468.3" y2="808.3" stroke-width="3.5" stroke-opacity="0.20"/>
<line x1="585.7" y1="763.8" x2="468.3" y2="808.3" stroke-width="5.5" stroke-opacity="0.20"/>
<line x1="585.7" y1="763.8" x2="468.3" y2="808.3" stroke-width="0.9" stroke-opacity="0.50"/>
<line x1="585.7" y1="763.8" x2="530.6" y2="835.7" stroke-width="0.9" stroke-opacity="0.50"/>
<line x1="468.3" y1="808.3" x2="530.6" y2="835.7" stroke-width="8.0" stroke-opacity="0.15"/>
<line x1="468.3" y1="808.3" x2="530.6" y2="835.7" stroke-width="4.5" stroke-opacity="0.30"/>
<line x1="468.3" y1="808.3" x2="530.6" y2="835.7" stroke-width="2.2" stroke-opacity="0.46"/>
<line x1="468.3" y1="808.3" x2="530.6" y2="835.7" stroke-width="3.5" stroke-opacity="0.20"/>
<line x1="794.9" y1="232.0" x2="865.0" y2="268.8" stroke-width="15.0" stroke-opacity="0.18"/>
<line x1="794.9" y1="232.0" x2="865.0" y2="268.8" stroke-width="11.0" stroke-opacity="0.32"/>
<line x1="794.9" y1="232.0" x2="865.0" y2="268.8" stroke-width="7.5" stroke-opacity="0.50"/>
<line x1="794.9" y1="232.0" x2="865.0" y2="268.8" stroke-width="4.0" stroke-opacity="0.30"/>
<line x1="794.9" y1="232.0" x2="796.3" y2="298.9" stroke-width="15.0" stroke-opacity="0.18"/>
<line x1="794.9" y1="232.0" x2="796.3" y2="298.9" stroke-width="11.0" stroke-opacity="0.32"/>
<line x1="794.9" y1="232.0" x2="796.3" y2="298.9" stroke-width="7.5" stroke-opacity="0.50"/>
<line x1="794.9" y1="232.0" x2="796.3" y2="298.9" stroke-width="4.0" stroke-opacity="0.30"/>
<line x1="796.3" y1="298.9" x2="851.9" y2="337.5" stroke-width="15.0" stroke-opacity="0.18"/>
<line x1="796.3" y1="298.9" x2="851.9" y2="337.5" stroke-width="11.0" stroke-opacity="0.32"/>
<line x1="796.3" y1="298.9" x2="851.9" y2="337.5" stroke-width="7.5" stroke-opacity="0.50"/>
<line x1="796.3" y1="298.9" x2="851.9" y2="337.5" stroke-width="4.0" stroke-opacity="0.30"/>
<line x1="796.3" y1="298.9" x2="851.9" y2="337.5" stroke-width="9.0" stroke-opacity="0.18"/>
<line x1="865.0" y1="268.8" x2="851.9" y2="337.5" stroke-width="15.0" stroke-opacity="0.20"/>
<line x1="865.0" y1="268.8" x2="851.9" y2="337.5" stroke-width="11.0" stroke-opacity="0.25"/>
<line x1="865.0" y1="268.8" x2="851.9" y2="337.5" stroke-width="5.0" stroke-opacity="0.55"/>
<line x1="865.0" y1="268.8" x2="851.9" y2="337.5" stroke-width="2.0" stroke-opacity="0.30"/>
<line x1="794.9" y1="232.0" x2="851.9" y2="337.5" stroke-width="10.0" stroke-opacity="0.22"/>
<line x1="794.9" y1="232.0" x2="851.9" y2="337.5" stroke-width="6.0" stroke-opacity="0.40"/>
<line x1="794.9" y1="232.0" x2="851.9" y2="337.5" stroke-width="2.0" stroke-opacity="0.60"/>
<line x1="865.0" y1="268.8" x2="796.3" y2="298.9" stroke-width="9.0" stroke-opacity="0.18"/>
<line x1="865.0" y1="268.8" x2="796.3" y2="298.9" stroke-width="3.5" stroke-opacity="0.20"/>
<line x1="515.9" y1="456.4" x2="511.3" y2="115.6" stroke-width="8.0" stroke-opacity="0.15"/>
<line x1="515.9" y1="456.4" x2="511.3" y2="115.6" stroke-width="4.5" stroke-opacity="0.30"/>
<line x1="515.9" y1="456.4" x2="511.3" y2="115.6" stroke-width="2.2" stroke-opacity="0.46"/>
<line x1="508.0" y1="468.9" x2="511.3" y2="115.6" stroke-width="0.9" stroke-opacity="0.50"/>
<line x1="515.9" y1="456.4" x2="438.2" y2="142.0" stroke-width="8.0" stroke-opacity="0.15"/>
<line x1="515.9" y1="456.4" x2="438.2" y2="142.0" stroke-width="4.5" stroke-opacity="0.30"/>
<line x1="515.9" y1="456.4" x2="438.2" y2="142.0" stroke-width="2.2" stroke-opacity="0.46"/>
<line x1="515.9" y1="456.4" x2="583.0" y2="128.7" stroke-width="6.0" stroke-opacity="0.14"/>
<line x1="515.9" y1="456.4" x2="583.0" y2="128.7" stroke-width="3.2" stroke-opacity="0.26"/>
<line x1="515.9" y1="456.4" x2="583.0" y2="128.7" stroke-width="1.5" stroke-opacity="0.43"/>
<line x1="508.0" y1="468.9" x2="583.0" y2="128.7" stroke-width="4.0" stroke-opacity="0.13"/>
<line x1="508.0" y1="468.9" x2="583.0" y2="128.7" stroke-width="2.2" stroke-opacity="0.20"/>
<line x1="508.0" y1="468.9" x2="583.0" y2="128.7" stroke-width="1.0" stroke-opacity="0.36"/>
<line x1="515.9" y1="456.4" x2="663.4" y2="150.2" stroke-width="8.0" stroke-opacity="0.15"/>
<line x1="515.9" y1="456.4" x2="663.4" y2="150.2" stroke-width="4.5" stroke-opacity="0.30"/>
<line x1="515.9" y1="456.4" x2="663.4" y2="150.2" stroke-width="2.2" stroke-opacity="0.46"/>
<line x1="515.9" y1="456.4" x2="523.4" y2="184.5" stroke-width="6.0" stroke-opacity="0.14"/>
<line x1="515.9" y1="456.4" x2="523.4" y2="184.5" stroke-width="3.2" stroke-opacity="0.26"/>
<line x1="515.9" y1="456.4" x2="523.4" y2="184.5" stroke-width="1.5" stroke-opacity="0.43"/>
<line x1="508.0" y1="468.9" x2="523.4" y2="184.5" stroke-width="0.9" stroke-opacity="0.50"/>
<line x1="508.0" y1="468.9" x2="386.5" y2="199.3" stroke-width="6.0" stroke-opacity="0.14"/>
<line x1="508.0" y1="468.9" x2="386.5" y2="199.3" stroke-width="3.2" stroke-opacity="0.26"/>
<line x1="508.0" y1="468.9" x2="386.5" y2="199.3" stroke-width="1.5" stroke-opacity="0.43"/>
<line x1="515.9" y1="456.4" x2="386.5" y2="199.3" stroke-width="1.0" stroke-opacity="0.75"/>
<line x1="515.9" y1="456.4" x2="650.9" y2="207.8" stroke-width="6.0" stroke-opacity="0.14"/>
<line x1="515.9" y1="456.4" x2="650.9" y2="207.8" stroke-width="3.2" stroke-opacity="0.26"/>
<line x1="515.9" y1="456.4" x2="650.9" y2="207.8" stroke-width="1.5" stroke-opacity="0.43"/>
<line x1="515.9" y1="456.4" x2="473.6" y2="254.4" stroke-width="6.0" stroke-opacity="0.14"/>
<line x1="515.9" y1="456.4" x2="473.6" y2="254.4" stroke-width="3.2" stroke-opacity="0.26"/>
<line x1="515.9" y1="456.4" x2="473.6" y2="254.4" stroke-width="1.5" stroke-opacity="0.43"/>
<line x1="508.0" y1="468.9" x2="473.6" y2="254.4" stroke-width="6.0" stroke-opacity="0.14"/>
<line x1="508.0" y1="468.9" x2="473.6" y2="254.4" stroke-width="3.2" stroke-opacity="0.26"/>
<line x1="508.0" y1="468.9" x2="473.6" y2="254.4" stroke-width="1.5" stroke-opacity="0.43"/>
<line x1="508.0" y1="468.9" x2="473.6" y2="254.4" stroke-width="0.9" stroke-opacity="0.50"/>
<line x1="515.9" y1="456.4" x2="540.6" y2="251.5" stroke-width="6.0" stroke-opacity="0.14"/>
<line x1="515.9" y1="456.4" x2="540.6" y2="251.5" stroke-width="3.2" stroke-opacity="0.26"/>
<line x1="515.9" y1="456.4" x2="540.6" y2="251.5" stroke-width="1.5" stroke-opacity="0.43"/>
<line x1="508.0" y1="468.9" x2="540.6" y2="251.5" stroke-width="4.0" stroke-opacity="0.13"/>
<line x1="508.0" y1="468.9" x2="540.6" y2="251.5" stroke-width="2.2" stroke-opacity="0.20"/>
<line x1="508.0" y1="468.9" x2="540.6" y2="251.5" stroke-width="1.0" stroke-opacity="0.36"/>
<line x1="515.9" y1="456.4" x2="616.0" y2="262.8" stroke-width="6.0" stroke-opacity="0.14"/>
<line x1="515.9" y1="456.4" x2="616.0" y2="262.8" stroke-width="3.2" stroke-opacity="0.26"/>
<line x1="515.9" y1="456.4" x2="616.0" y2="262.8" stroke-width="1.5" stroke-opacity="0.43"/>
<line x1="508.0" y1="468.9" x2="616.0" y2="262.8" stroke-width="6.0" stroke-opacity="0.14"/>
<line x1="508.0" y1="468.9" x2="616.0" y2="262.8" stroke-width="3.2" stroke-opacity="0.26"/>
<line x1="508.0" y1="468.9" x2="616.0" y2="262.8" stroke-width="1.5" stroke-opacity="0.43"/>
<line x1="515.9" y1="456.4" x2="570.8" y2="340.7" stroke-width="5.5" stroke-opacity="0.25"/>
<line x1="515.9" y1="456.4" x2="570.8" y2="340.7" stroke-width="3.2" stroke-opacity="0.45"/>
<line x1="515.9" y1="456.4" x2="570.8" y2="340.7" stroke-width="1.8" stroke-opacity="0.60"/>
<line x1="508.0" y1="468.9" x2="570.8" y2="340.7" stroke-width="4.0" stroke-opacity="0.13"/>
<line x1="508.0" y1="468.9" x2="570.8" y2="340.7" stroke-width="2.2" stroke-opacity="0.20"/>
<line x1="508.0" y1="468.9" x2="570.8" y2="340.7" stroke-width="1.0" stroke-opacity="0.36"/>
<line x1="515.9" y1="456.4" x2="208.9" y2="273.9" stroke-width="6.0" stroke-opacity="0.14"/>
<line x1="515.9" y1="456.4" x2="208.9" y2="273.9" stroke-width="3.2" stroke-opacity="0.26"/>
<line x1="515.9" y1="456.4" x2="208.9" y2="273.9" stroke-width="1.5" stroke-opacity="0.43"/>
<line x1="508.0" y1="468.9" x2="208.9" y2="273.9" stroke-width="0.9" stroke-opacity="0.50"/>
<line x1="515.9" y1="456.4" x2="263.4" y2="302.5" stroke-width="6.0" stroke-opacity="0.14"/>
<line x1="515.9" y1="456.4" x2="263.4" y2="302.5" stroke-width="3.2" stroke-opacity="0.26"/>
<line x1="515.9" y1="456.4" x2="263.4" y2="302.5" stroke-width="1.5" stroke-opacity="0.43"/>
<line x1="508.0" y1="468.9" x2="263.4" y2="302.5" stroke-width="6.0" stroke-opacity="0.14"/>
<line x1="508.0" y1="468.9" x2="263.4" y2="302.5" stroke-width="3.2" stroke-opacity="0.26"/>
<line x1="508.0" y1="468.9" x2="263.4" y2="302.5" stroke-width="1.5" stroke-opacity="0.43"/>
<line x1="508.0" y1="468.9" x2="263.4" y2="302.5" stroke-width="0.9" stroke-opacity="0.50"/>
<line x1="515.9" y1="456.4" x2="170.1" y2="334.7" stroke-width="4.0" stroke-opacity="0.13"/>
<line x1="515.9" y1="456.4" x2="170.1" y2="334.7" stroke-width="2.2" stroke-opacity="0.20"/>
<line x1="515.9" y1="456.4" x2="170.1" y2="334.7" stroke-width="1.0" stroke-opacity="0.36"/>
<line x1="515.9" y1="456.4" x2="239.4" y2="358.4" stroke-width="4.0" stroke-opacity="0.13"/>
<line x1="515.9" y1="456.4" x2="239.4" y2="358.4" stroke-width="2.2" stroke-opacity="0.20"/>
<line x1="515.9" y1="456.4" x2="239.4" y2="358.4" stroke-width="1.0" stroke-opacity="0.36"/>
<line x1="508.0" y1="468.9" x2="239.4" y2="358.4" stroke-width="0.9" stroke-opacity="0.50"/>
<line x1="515.9" y1="456.4" x2="145.0" y2="378.0" stroke-width="4.0" stroke-opacity="0.13"/>
<line x1="515.9" y1="456.4" x2="145.0" y2="378.0" stroke-width="2.2" stroke-opacity="0.20"/>
<line x1="515.9" y1="456.4" x2="145.0" y2="378.0" stroke-width="1.0" stroke-opacity="0.36"/>
<line x1="508.0" y1="468.9" x2="145.0" y2="378.0" stroke-width="0.9" stroke-opacity="0.50"/>
<line x1="515.9" y1="456.4" x2="318.0" y2="388.3" stroke-width="8.0" stroke-opacity="0.15"/>
<line x1="515.9" y1="456.4" x2="318.0" y2="388.3" stroke-width="4.5" stroke-opacity="0.30"/>
<line x1="515.9" y1="456.4" x2="318.0" y2="388.3" stroke-width="2.2" stroke-opacity="0.46"/>
<line x1="508.0" y1="468.9" x2="318.0" y2="388.3" stroke-width="4.0" stroke-opacity="0.13"/>
<line x1="508.0" y1="468.9" x2="318.0" y2="388.3" stroke-width="2.2" stroke-opacity="0.20"/>
<line x1="508.0" y1="468.9" x2="318.0" y2="388.3" stroke-width="1.0" stroke-opacity="0.36"/>
<line x1="515.9" y1="456.4" x2="214.1" y2="402.7" stroke-width="6.0" stroke-opacity="0.14"/>
<line x1="515.9" y1="456.4" x2="214.1" y2="402.7" stroke-width="3.2" stroke-opacity="0.26"/>
<line x1="515.9" y1="456.4" x2="214.1" y2="402.7" stroke-width="1.5" stroke-opacity="0.43"/>
<line x1="508.0" y1="468.9" x2="214.1" y2="402.7" stroke-width="0.9" stroke-opacity="0.50"/>
<line x1="515.9" y1="456.4" x2="130.0" y2="422.9" stroke-width="8.0" stroke-opacity="0.15"/>
<line x1="515.9" y1="456.4" x2="130.0" y2="422.9" stroke-width="4.5" stroke-opacity="0.30"/>
<line x1="515.9" y1="456.4" x2="130.0" y2="422.9" stroke-width="2.2" stroke-opacity="0.46"/>
<line x1="515.9" y1="456.4" x2="271.4" y2="441.1" stroke-width="6.0" stroke-opacity="0.14"/>
<line x1="515.9" y1="456.4" x2="271.4" y2="441.1" stroke-width="3.2" stroke-opacity="0.26"/>
<line x1="515.9" y1="456.4" x2="271.4" y2="441.1" stroke-width="1.5" stroke-opacity="0.43"/>
<line x1="508.0" y1="468.9" x2="271.4" y2="441.1" stroke-width="4.0" stroke-opacity="0.13"/>
<line x1="508.0" y1="468.9" x2="271.4" y2="441.1" stroke-width="2.2" stroke-opacity="0.20"/>
<line x1="508.0" y1="468.9" x2="271.4" y2="441.1" stroke-width="1.0" stroke-opacity="0.36"/>
<line x1="515.9" y1="456.4" x2="197.4" y2="454.5" stroke-width="6.0" stroke-opacity="0.14"/>
<line x1="515.9" y1="456.4" x2="197.4" y2="454.5" stroke-width="3.2" stroke-opacity="0.26"/>
<line x1="515.9" y1="456.4" x2="197.4" y2="454.5" stroke-width="1.5" stroke-opacity="0.43"/>
<line x1="508.0" y1="468.9" x2="197.4" y2="454.5" stroke-width="4.0" stroke-opacity="0.13"/>
<line x1="508.0" y1="468.9" x2="197.4" y2="454.5" stroke-width="2.2" stroke-opacity="0.20"/>
<line x1="508.0" y1="468.9" x2="197.4" y2="454.5" stroke-width="1.0" stroke-opacity="0.36"/>
<line x1="515.9" y1="456.4" x2="124.6" y2="483.2" stroke-width="4.0" stroke-opacity="0.13"/>
<line x1="515.9" y1="456.4" x2="124.6" y2="483.2" stroke-width="2.2" stroke-opacity="0.20"/>
<line x1="515.9" y1="456.4" x2="124.6" y2="483.2" stroke-width="1.0" stroke-opacity="0.36"/>
<line x1="508.0" y1="468.9" x2="124.6" y2="483.2" stroke-width="0.9" stroke-opacity="0.50"/>
<line x1="515.9" y1="456.4" x2="230.4" y2="511.0" stroke-width="8.0" stroke-opacity="0.15"/>
<line x1="515.9" y1="456.4" x2="230.4" y2="511.0" stroke-width="4.5" stroke-opacity="0.30"/>
<line x1="515.9" y1="456.4" x2="230.4" y2="511.0" stroke-width="2.2" stroke-opacity="0.46"/>
<line x1="508.0" y1="468.9" x2="230.4" y2="511.0" stroke-width="0.9" stroke-opacity="0.50"/>
<line x1="515.9" y1="456.4" x2="174.5" y2="522.2" stroke-width="4.0" stroke-opacity="0.13"/>
<line x1="515.9" y1="456.4" x2="174.5" y2="522.2" stroke-width="2.2" stroke-opacity="0.20"/>
<line x1="515.9" y1="456.4" x2="174.5" y2="522.2" stroke-width="1.0" stroke-opacity="0.36"/>
<line x1="515.9" y1="456.4" x2="794.9" y2="232.0" stroke-width="6.0" stroke-opacity="0.14"/>
<line x1="515.9" y1="456.4" x2="794.9" y2="232.0" stroke-width="3.2" stroke-opacity="0.26"/>
<line x1="515.9" y1="456.4" x2="794.9" y2="232.0" stroke-width="1.5" stroke-opacity="0.43"/>
<line x1="515.9" y1="456.4" x2="796.3" y2="298.9" stroke-width="6.0" stroke-opacity="0.14"/>
<line x1="515.9" y1="456.4" x2="796.3" y2="298.9" stroke-width="3.2" stroke-opacity="0.26"/>
<line x1="515.9" y1="456.4" x2="796.3" y2="298.9" stroke-width="1.5" stroke-opacity="0.43"/>
<line x1="508.0" y1="468.9" x2="796.3" y2="298.9" stroke-width="6.0" stroke-opacity="0.14"/>
<line x1="508.0" y1="468.9" x2="796.3" y2="298.9" stroke-width="3.2" stroke-opacity="0.26"/>
<line x1="508.0" y1="468.9" x2="796.3" y2="298.9" stroke-width="1.5" stroke-opacity="0.43"/>
<line x1="515.9" y1="456.4" x2="865.0" y2="268.8" stroke-width="4.0" stroke-opacity="0.13"/>
<line x1="515.9" y1="456.4" x2="865.0" y2="268.8" stroke-width="2.2" stroke-opacity="0.20"/>
<line x1="515.9" y1="456.4" x2="865.0" y2="268.8" stroke-width="1.0" stroke-opacity="0.36"/>
<line x1="515.9" y1="456.4" x2="851.9" y2="337.5" stroke-width="6.0" stroke-opacity="0.14"/>
<line x1="515.9" y1="456.4" x2="851.9" y2="337.5" stroke-width="3.2" stroke-opacity="0.26"/>
<line x1="515.9" y1="456.4" x2="851.9" y2="337.5" stroke-width="1.5" stroke-opacity="0.43"/>
<line x1="508.0" y1="468.9" x2="851.9" y2="337.5" stroke-width="0.9" stroke-opacity="0.50"/>
<line x1="515.9" y1="456.4" x2="733.0" y2="460.0" stroke-width="6.0" stroke-opacity="0.14"/>
<line x1="515.9" y1="456.4" x2="733.0" y2="460.0" stroke-width="3.2" stroke-opacity="0.26"/>
<line x1="515.9" y1="456.4" x2="733.0" y2="460.0" stroke-width="1.5" stroke-opacity="0.43"/>
<line x1="508.0" y1="468.9" x2="733.0" y2="460.0" stroke-width="4.0" stroke-opacity="0.13"/>
<line x1="508.0" y1="468.9" x2="733.0" y2="460.0" stroke-width="2.2" stroke-opacity="0.20"/>
<line x1="508.0" y1="468.9" x2="733.0" y2="460.0" stroke-width="1.0" stroke-opacity="0.36"/>
<line x1="515.9" y1="456.4" x2="774.5" y2="498.2" stroke-width="4.0" stroke-opacity="0.13"/>
<line x1="515.9" y1="456.4" x2="774.5" y2="498.2" stroke-width="2.2" stroke-opacity="0.20"/>
<line x1="515.9" y1="456.4" x2="774.5" y2="498.2" stroke-width="1.0" stroke-opacity="0.36"/>
<line x1="508.0" y1="468.9" x2="774.5" y2="498.2" stroke-width="0.9" stroke-opacity="0.50"/>
<line x1="515.9" y1="456.4" x2="845.3" y2="538.3" stroke-width="4.0" stroke-opacity="0.13"/>
<line x1="515.9" y1="456.4" x2="845.3" y2="538.3" stroke-width="2.2" stroke-opacity="0.20"/>
<line x1="515.9" y1="456.4" x2="845.3" y2="538.3" stroke-width="1.0" stroke-opacity="0.36"/>
<line x1="508.0" y1="468.9" x2="845.3" y2="538.3" stroke-width="0.9" stroke-opacity="0.50"/>
<line x1="515.9" y1="456.4" x2="776.8" y2="548.8" stroke-width="4.0" stroke-opacity="0.13"/>
<line x1="515.9" y1="456.4" x2="776.8" y2="548.8" stroke-width="2.2" stroke-opacity="0.20"/>
<line x1="515.9" y1="456.4" x2="776.8" y2="548.8" stroke-width="1.0" stroke-opacity="0.36"/>
<line x1="515.9" y1="456.4" x2="688.7" y2="550.3" stroke-width="6.0" stroke-opacity="0.14"/>
<line x1="515.9" y1="456.4" x2="688.7" y2="550.3" stroke-width="3.2" stroke-opacity="0.26"/>
<line x1="515.9" y1="456.4" x2="688.7" y2="550.3" stroke-width="1.5" stroke-opacity="0.43"/>
<line x1="515.9" y1="456.4" x2="850.4" y2="586.2" stroke-width="4.0" stroke-opacity="0.13"/>
<line x1="515.9" y1="456.4" x2="850.4" y2="586.2" stroke-width="2.2" stroke-opacity="0.20"/>
<line x1="515.9" y1="456.4" x2="850.4" y2="586.2" stroke-width="1.0" stroke-opacity="0.36"/>
<line x1="508.0" y1="468.9" x2="850.4" y2="586.2" stroke-width="0.9" stroke-opacity="0.50"/>
<line x1="515.9" y1="456.4" x2="692.1" y2="602.8" stroke-width="6.0" stroke-opacity="0.14"/>
<line x1="515.9" y1="456.4" x2="692.1" y2="602.8" stroke-width="3.2" stroke-opacity="0.26"/>
<line x1="515.9" y1="456.4" x2="692.1" y2="602.8" stroke-width="1.5" stroke-opacity="0.43"/>
<line x1="508.0" y1="468.9" x2="692.1" y2="602.8" stroke-width="4.0" stroke-opacity="0.13"/>
<line x1="508.0" y1="468.9" x2="692.1" y2="602.8" stroke-width="2.2" stroke-opacity="0.20"/>
<line x1="508.0" y1="468.9" x2="692.1" y2="602.8" stroke-width="1.0" stroke-opacity="0.36"/>
<line x1="515.9" y1="456.4" x2="791.0" y2="604.2" stroke-width="6.0" stroke-opacity="0.14"/>
<line x1="515.9" y1="456.4" x2="791.0" y2="604.2" stroke-width="3.2" stroke-opacity="0.26"/>
<line x1="515.9" y1="456.4" x2="791.0" y2="604.2" stroke-width="1.5" stroke-opacity="0.43"/>
<line x1="515.9" y1="456.4" x2="845.0" y2="642.0" stroke-width="8.0" stroke-opacity="0.15"/>
<line x1="515.9" y1="456.4" x2="845.0" y2="642.0" stroke-width="4.5" stroke-opacity="0.30"/>
<line x1="515.9" y1="456.4" x2="845.0" y2="642.0" stroke-width="2.2" stroke-opacity="0.46"/>
<line x1="515.9" y1="456.4" x2="742.1" y2="650.7" stroke-width="4.0" stroke-opacity="0.13"/>
<line x1="515.9" y1="456.4" x2="742.1" y2="650.7" stroke-width="2.2" stroke-opacity="0.20"/>
<line x1="515.9" y1="456.4" x2="742.1" y2="650.7" stroke-width="1.0" stroke-opacity="0.36"/>
<line x1="508.0" y1="468.9" x2="742.1" y2="650.7" stroke-width="0.9" stroke-opacity="0.50"/>
<line x1="515.9" y1="456.4" x2="688.8" y2="656.7" stroke-width="8.0" stroke-opacity="0.15"/>
<line x1="515.9" y1="456.4" x2="688.8" y2="656.7" stroke-width="4.5" stroke-opacity="0.30"/>
<line x1="515.9" y1="456.4" x2="688.8" y2="656.7" stroke-width="2.2" stroke-opacity="0.46"/>
<line x1="508.0" y1="468.9" x2="688.8" y2="656.7" stroke-width="4.0" stroke-opacity="0.13"/>
<line x1="508.0" y1="468.9" x2="688.8" y2="656.7" stroke-width="2.2" stroke-opacity="0.20"/>
<line x1="508.0" y1="468.9" x2="688.8" y2="656.7" stroke-width="1.0" stroke-opacity="0.36"/>
<line x1="515.9" y1="456.4" x2="797.4" y2="683.2" stroke-width="8.0" stroke-opacity="0.15"/>
<line x1="515.9" y1="456.4" x2="797.4" y2="683.2" stroke-width="4.5" stroke-opacity="0.30"/>
<line x1="515.9" y1="456.4" x2="797.4" y2="683.2" stroke-width="2.2" stroke-opacity="0.46"/>
<line x1="515.9" y1="456.4" x2="733.5" y2="707.4" stroke-width="6.0" stroke-opacity="0.14"/>
<line x1="515.9" y1="456.4" x2="733.5" y2="707.4" stroke-width="3.2" stroke-opacity="0.26"/>
<line x1="515.9" y1="456.4" x2="733.5" y2="707.4" stroke-width="1.5" stroke-opacity="0.43"/>
<line x1="508.0" y1="468.9" x2="733.5" y2="707.4" stroke-width="4.0" stroke-opacity="0.13"/>
<line x1="508.0" y1="468.9" x2="733.5" y2="707.4" stroke-width="2.2" stroke-opacity="0.20"/>
<line x1="508.0" y1="468.9" x2="733.5" y2="707.4" stroke-width="1.0" stroke-opacity="0.36"/>
<line x1="515.9" y1="456.4" x2="383.0" y2="562.9" stroke-width="9.0" stroke-opacity="0.20"/>
<line x1="515.9" y1="456.4" x2="383.0" y2="562.9" stroke-width="6.0" stroke-opacity="0.35"/>
<line x1="515.9" y1="456.4" x2="383.0" y2="562.9" stroke-width="3.5" stroke-opacity="0.50"/>
<line x1="515.9" y1="456.4" x2="383.0" y2="562.9" stroke-width="9.0" stroke-opacity="0.18"/>
<line x1="508.0" y1="468.9" x2="383.0" y2="562.9" stroke-width="8.0" stroke-opacity="0.15"/>
<line x1="508.0" y1="468.9" x2="383.0" y2="562.9" stroke-width="4.5" stroke-opacity="0.30"/>
<line x1="508.0" y1="468.9" x2="383.0" y2="562.9" stroke-width="2.2" stroke-opacity="0.46"/>
<line x1="515.9" y1="456.4" x2="345.0" y2="613.8" stroke-width="9.0" stroke-opacity="0.20"/>
<line x1="515.9" y1="456.4" x2="345.0" y2="613.8" stroke-width="6.0" stroke-opacity="0.35"/>
<line x1="515.9" y1="456.4" x2="345.0" y2="613.8" stroke-width="3.5" stroke-opacity="0.50"/>
<line x1="515.9" y1="456.4" x2="345.0" y2="613.8" stroke-width="9.0" stroke-opacity="0.18"/>
<line x1="508.0" y1="468.9" x2="345.0" y2="613.8" stroke-width="8.0" stroke-opacity="0.15"/>
<line x1="508.0" y1="468.9" x2="345.0" y2="613.8" stroke-width="4.5" stroke-opacity="0.30"/>
<line x1="508.0" y1="468.9" x2="345.0" y2="613.8" stroke-width="2.2" stroke-opacity="0.46"/>
<line x1="515.9" y1="456.4" x2="469.3" y2="570.4" stroke-width="8.0" stroke-opacity="0.15"/>
<line x1="515.9" y1="456.4" x2="469.3" y2="570.4" stroke-width="4.5" stroke-opacity="0.30"/>
<line x1="515.9" y1="456.4" x2="469.3" y2="570.4" stroke-width="2.2" stroke-opacity="0.46"/>
<line x1="508.0" y1="468.9" x2="469.3" y2="570.4" stroke-width="6.0" stroke-opacity="0.14"/>
<line x1="508.0" y1="468.9" x2="469.3" y2="570.4" stroke-width="3.2" stroke-opacity="0.26"/>
<line x1="508.0" y1="468.9" x2="469.3" y2="570.4" stroke-width="1.5" stroke-opacity="0.43"/>
<line x1="515.9" y1="456.4" x2="402.9" y2="641.9" stroke-width="8.0" stroke-opacity="0.15"/>
<line x1="515.9" y1="456.4" x2="402.9" y2="641.9" stroke-width="4.5" stroke-opacity="0.30"/>
<line x1="515.9" y1="456.4" x2="402.9" y2="641.9" stroke-width="2.2" stroke-opacity="0.46"/>
<line x1="508.0" y1="468.9" x2="402.9" y2="641.9" stroke-width="8.0" stroke-opacity="0.15"/>
<line x1="508.0" y1="468.9" x2="402.9" y2="641.9" stroke-width="4.5" stroke-opacity="0.30"/>
<line x1="508.0" y1="468.9" x2="402.9" y2="641.9" stroke-width="2.2" stroke-opacity="0.46"/>
<line x1="515.9" y1="456.4" x2="469.2" y2="654.3" stroke-width="11.0" stroke-opacity="0.20"/>
<line x1="515.9" y1="456.4" x2="469.2" y2="654.3" stroke-width="8.0" stroke-opacity="0.35"/>
<line x1="515.9" y1="456.4" x2="469.2" y2="654.3" stroke-width="5.0" stroke-opacity="0.55"/>
<line x1="515.9" y1="456.4" x2="469.2" y2="654.3" stroke-width="9.0" stroke-opacity="0.18"/>
<line x1="508.0" y1="468.9" x2="469.2" y2="654.3" stroke-width="8.0" stroke-opacity="0.15"/>
<line x1="508.0" y1="468.9" x2="469.2" y2="654.3" stroke-width="4.5" stroke-opacity="0.30"/>
<line x1="508.0" y1="468.9" x2="469.2" y2="654.3" stroke-width="2.2" stroke-opacity="0.46"/>
<line x1="515.9" y1="456.4" x2="517.8" y2="721.8" stroke-width="8.0" stroke-opacity="0.15"/>
<line x1="515.9" y1="456.4" x2="517.8" y2="721.8" stroke-width="4.5" stroke-opacity="0.30"/>
<line x1="515.9" y1="456.4" x2="517.8" y2="721.8" stroke-width="2.2" stroke-opacity="0.46"/>
<line x1="508.0" y1="468.9" x2="517.8" y2="721.8" stroke-width="4.0" stroke-opacity="0.13"/>
<line x1="508.0" y1="468.9" x2="517.8" y2="721.8" stroke-width="2.2" stroke-opacity="0.20"/>
<line x1="508.0" y1="468.9" x2="517.8" y2="721.8" stroke-width="1.0" stroke-opacity="0.36"/>
<line x1="508.0" y1="468.9" x2="293.9" y2="753.8" stroke-width="5.0" stroke-opacity="0.18"/>
<line x1="508.0" y1="468.9" x2="293.9" y2="753.8" stroke-width="2.8" stroke-opacity="0.40"/>
<line x1="508.0" y1="468.9" x2="293.9" y2="753.8" stroke-width="1.5" stroke-opacity="0.50"/>
<line x1="515.9" y1="456.4" x2="419.9" y2="775.8" stroke-width="6.0" stroke-opacity="0.14"/>
<line x1="515.9" y1="456.4" x2="419.9" y2="775.8" stroke-width="3.2" stroke-opacity="0.26"/>
<line x1="515.9" y1="456.4" x2="419.9" y2="775.8" stroke-width="1.5" stroke-opacity="0.43"/>
<line x1="515.9" y1="456.4" x2="585.7" y2="763.8" stroke-width="6.0" stroke-opacity="0.14"/>
<line x1="515.9" y1="456.4" x2="585.7" y2="763.8" stroke-width="3.2" stroke-opacity="0.26"/>
<line x1="515.9" y1="456.4" x2="585.7" y2="763.8" stroke-width="1.5" stroke-opacity="0.43"/>
<line x1="508.0" y1="468.9" x2="585.7" y2="763.8" stroke-width="0.9" stroke-opacity="0.50"/>
<line x1="515.9" y1="456.4" x2="468.3" y2="808.3" stroke-width="6.0" stroke-opacity="0.14"/>
<line x1="515.9" y1="456.4" x2="468.3" y2="808.3" stroke-width="3.2" stroke-opacity="0.26"/>
<line x1="515.9" y1="456.4" x2="468.3" y2="808.3" stroke-width="1.5" stroke-opacity="0.43"/>
<line x1="515.9" y1="456.4" x2="530.6" y2="835.7" stroke-width="6.0" stroke-opacity="0.14"/>
<line x1="515.9" y1="456.4" x2="530.6" y2="835.7" stroke-width="3.2" stroke-opacity="0.26"/>
<line x1="515.9" y1="456.4" x2="530.6" y2="835.7" stroke-width="1.5" stroke-opacity="0.43"/>
<line x1="508.0" y1="468.9" x2="530.6" y2="835.7" stroke-width="0.9" stroke-opacity="0.50"/>
<line x1="386.5" y1="199.3" x2="208.9" y2="273.9" stroke-width="2.6" stroke-opacity="0.38"/>
<line x1="663.4" y1="150.2" x2="794.9" y2="232.0" stroke-width="2.2" stroke-opacity="0.28"/>
<line x1="663.4" y1="150.2" x2="774.5" y2="498.2" stroke-width="0.8" stroke-opacity="0.22"/>
<line x1="851.9" y1="337.5" x2="733.0" y2="460.0" stroke-width="0.8" stroke-opacity="0.22"/>
<line x1="851.9" y1="337.5" x2="774.5" y2="498.2" stroke-width="0.8" stroke-opacity="0.22"/>
<line x1="230.4" y1="511.0" x2="468.3" y2="808.3" stroke-width="0.8" stroke-opacity="0.22"/>
<line x1="293.9" y1="753.8" x2="688.8" y2="656.7" stroke-width="0.8" stroke-opacity="0.22"/>
<line x1="469.2" y1="654.3" x2="688.8" y2="656.7" stroke-width="2.2" stroke-opacity="0.28"/>
<line x1="402.9" y1="641.9" x2="692.1" y2="602.8" stroke-width="0.8" stroke-opacity="0.22"/>
<line x1="402.9" y1="641.9" x2="688.7" y2="550.3" stroke-width="0.8" stroke-opacity="0.22"/>
<line x1="419.9" y1="775.8" x2="692.1" y2="602.8" stroke-width="0.8" stroke-opacity="0.22"/>
<line x1="585.7" y1="763.8" x2="733.5" y2="707.4" stroke-width="0.8" stroke-opacity="0.22"/>
<line x1="585.7" y1="763.8" x2="616.0" y2="262.8" stroke-width="0.8" stroke-opacity="0.22"/>
<line x1="517.8" y1="721.8" x2="570.8" y2="340.7" stroke-width="0.8" stroke-opacity="0.22"/>
<line x1="517.8" y1="721.8" x2="692.1" y2="602.8" stroke-width="0.8" stroke-opacity="0.22"/>
<line x1="469.3" y1="570.4" x2="688.8" y2="656.7" stroke-width="0.8" stroke-opacity="0.22"/>
<line x1="170.1" y1="334.7" x2="438.2" y2="142.0" stroke-width="0.8" stroke-opacity="0.22"/>
<line x1="239.4" y1="358.4" x2="473.6" y2="254.4" stroke-width="0.8" stroke-opacity="0.22"/>
<line x1="214.1" y1="402.7" x2="540.6" y2="251.5" stroke-width="0.8" stroke-opacity="0.22"/>
<line x1="197.4" y1="454.5" x2="402.9" y2="641.9" stroke-width="0.9" stroke-opacity="0.50"/>
<line x1="318.0" y1="388.3" x2="733.0" y2="460.0" stroke-width="0.8" stroke-opacity="0.22"/>
<line x1="271.4" y1="441.1" x2="688.7" y2="550.3" stroke-width="0.8" stroke-opacity="0.22"/>
<line x1="540.6" y1="251.5" x2="733.0" y2="460.0" stroke-width="2.2" stroke-opacity="0.28"/>
<line x1="570.8" y1="340.7" x2="692.1" y2="602.8" stroke-width="2.2" stroke-opacity="0.28"/>
<line x1="473.6" y1="254.4" x2="469.2" y2="654.3" stroke-width="0.8" stroke-opacity="0.22"/></g>
<g><circle cx="515.9" cy="456.4" r="17.4" fill="#F8766D"/>
<circle cx="508.0" cy="468.9" r="11.5" fill="#F8766D"/>
<circle cx="511.3" cy="115.6" r="5.5" fill="#00BFC4"/>
<circle cx="438.2" cy="142.0" r="8.0" fill="#00BA38"/>
<circle cx="583.0" cy="128.7" r="9.8" fill="#00BA38"/>
<circle cx="663.4" cy="150.2" r="5.6" fill="#00BFC4"/>
<circle cx="523.4" cy="184.5" r="8.3" fill="#00BFC4"/>
<circle cx="386.5" cy="199.3" r="6.5" fill="#00BFC4"/>
<circle cx="650.9" cy="207.8" r="4.9" fill="#00BFC4"/>
<circle cx="473.6" cy="254.4" r="11.5" fill="#00BFC4"/>
<circle cx="540.6" cy="251.5" r="10.3" fill="#00BFC4"/>
<circle cx="616.0" cy="262.8" r="8.0" fill="#00BFC4"/>
<circle cx="570.8" cy="340.7" r="13.0" fill="#00BFC4"/>
<circle cx="208.9" cy="273.9" r="7.0" fill="#00BA38"/>
<circle cx="263.4" cy="302.5" r="4.5" fill="#B79F00"/>
<circle cx="170.1" cy="334.7" r="8.0" fill="#F564E3"/>
<circle cx="239.4" cy="358.4" r="6.5" fill="#B79F00"/>
<circle cx="145.0" cy="378.0" r="5.0" fill="#B79F00"/>
<circle cx="318.0" cy="388.3" r="10.0" fill="#F564E3"/>
<circle cx="214.1" cy="402.7" r="8.0" fill="#B79F00"/>
<circle cx="130.0" cy="422.9" r="5.0" fill="#F564E3"/>
<circle cx="271.4" cy="441.1" r="11.6" fill="#B79F00"/>
<circle cx="197.4" cy="454.5" r="11.6" fill="#B79F00"/>
<circle cx="124.6" cy="483.2" r="4.5" fill="#B79F00"/>
<circle cx="230.4" cy="511.0" r="7.5" fill="#B79F00"/>
<circle cx="174.5" cy="522.2" r="4.6" fill="#B79F00"/>
<circle cx="733.0" cy="460.0" r="12.0" fill="#619CFF"/>
<circle cx="774.5" cy="498.2" r="10.5" fill="#619CFF"/>
<circle cx="845.3" cy="538.3" r="6.6" fill="#F564E3"/>
<circle cx="776.8" cy="548.8" r="5.0" fill="#00BA38"/>
<circle cx="688.7" cy="550.3" r="11.6" fill="#00BFC4"/>
<circle cx="850.4" cy="586.2" r="7.5" fill="#619CFF"/>
<circle cx="692.1" cy="602.8" r="12.0" fill="#F564E3"/>
<circle cx="791.0" cy="604.2" r="3.7" fill="#619CFF"/>
<circle cx="845.0" cy="642.0" r="4.8" fill="#F564E3"/>
<circle cx="742.1" cy="650.7" r="7.8" fill="#619CFF"/>
<circle cx="688.8" cy="656.7" r="8.6" fill="#F564E3"/>
<circle cx="797.4" cy="683.2" r="7.6" fill="#00BFC4"/>
<circle cx="733.5" cy="707.4" r="8.3" fill="#00BFC4"/>
<circle cx="383.0" cy="562.9" r="3.9" fill="#F8766D"/>
<circle cx="469.3" cy="570.4" r="8.3" fill="#F8766D"/>
<circle cx="345.0" cy="613.8" r="3.8" fill="#F8766D"/>
<circle cx="402.9" cy="641.9" r="12.8" fill="#F8766D"/>
<circle cx="469.2" cy="654.3" r="8.3" fill="#F8766D"/>
<circle cx="517.8" cy="721.8" r="6.7" fill="#00BFC4"/>
<circle cx="293.9" cy="753.8" r="3.8" fill="#F564E3"/>
<circle cx="419.9" cy="775.8" r="8.0" fill="#B79F00"/>
<circle cx="585.7" cy="763.8" r="7.0" fill="#B79F00"/>
<circle cx="468.3" cy="808.3" r="8.5" fill="#B79F00"/>
<circle cx="530.6" cy="835.7" r="4.0" fill="#B79F00"/>
<circle cx="794.9" cy="232.0" r="8.8" fill="#F564E3"/>
<circle cx="865.0" cy="268.8" r="4.0" fill="#00BA38"/>
<circle cx="796.3" cy="298.9" r="4.0" fill="#F564E3"/>
<circle cx="851.9" cy="337.5" r="10.0" fill="#F564E3"/></g>
<g id="legend">
<g fill="#ccc">
<rect x="951" y="26.75" width="37" height="0.90"/>
<rect x="951" y="70.08" width="37" height="8.00"/>
<rect x="951" y="113.16" width="37" height="14.00"/>
<rect x="951" y="156.24" width="37" height="20.00"/>
<rect x="951" y="198.82" width="37" height="27.00"/>
</g>
<g font-size="23.47">
<text x="1006.8" y="37.10" letter-spacing="-0.1">2.5</text>
<text x="1006.8" y="83.18" letter-spacing="-0.1">5.0</text>
<text x="1006.8" y="129.26" letter-spacing="-0.1">7.5</text>
<text x="1006.8" y="175.34" letter-spacing="-0.1">10.0</text>
<text x="1006.8" y="221.42" letter-spacing="-0.1">12.5</text>
</g>
<text x="945.5" y="319.2" font-size="29.33">Department</text>
<g font-size="23.47">
<text x="1007.3" y="368.50" letter-spacing="-0.585">Administration</text>
<circle cx="969" cy="359.00" r="5.3" fill="#F8766D"/>
<text x="1006.2" y="414.58" letter-spacing="-0.490">Engineering</text>
<circle cx="969" cy="405.08" r="5.3" fill="#B79F00"/>
<text x="1006.2" y="460.66" letter-spacing="-0.350">Executive</text>
<circle cx="969" cy="451.16" r="5.3" fill="#00BA38"/>
<text x="1006.2" y="506.74" letter-spacing="-0.190">Facilities</text>
<circle cx="969" cy="497.24" r="5.3" fill="#00BFC4"/>
<text x="1006.1" y="552.82" letter-spacing="-0.295">Information Technology</text>
<circle cx="969" cy="543.32" r="5.3" fill="#619CFF"/>
<text x="1006.8" y="598.90" letter-spacing="-0.540">Security</text>
<circle cx="969" cy="589.40" r="5.3" fill="#F564E3"/>
</g>
<text x="945.5" y="696.8" font-size="29.33" letter-spacing="-0.13">betweenness_centrality</text>
<g font-size="23.47">
<text x="1006.8" y="746.30">0</text>
<circle cx="969.2" cy="736.30" r="3.9" fill="#000"/>
<text x="1006.8" y="792.38">100</text>
<circle cx="969.2" cy="783.08" r="9.5" fill="#000"/>
<text x="1006.8" y="838.46">200</text>
<circle cx="969.2" cy="829.16" r="12.0" fill="#000"/>
<text x="1006.8" y="884.54">300</text>
<circle cx="969.2" cy="875.24" r="13.9" fill="#000"/>
<text x="1006.8" y="930.62">400</text>
<circle cx="969.2" cy="921.32" r="15.6" fill="#000"/>
<circle cx="969.2" cy="967.40" r="17.5" fill="#000"/>
</g></g>
</svg>
</body></html>
